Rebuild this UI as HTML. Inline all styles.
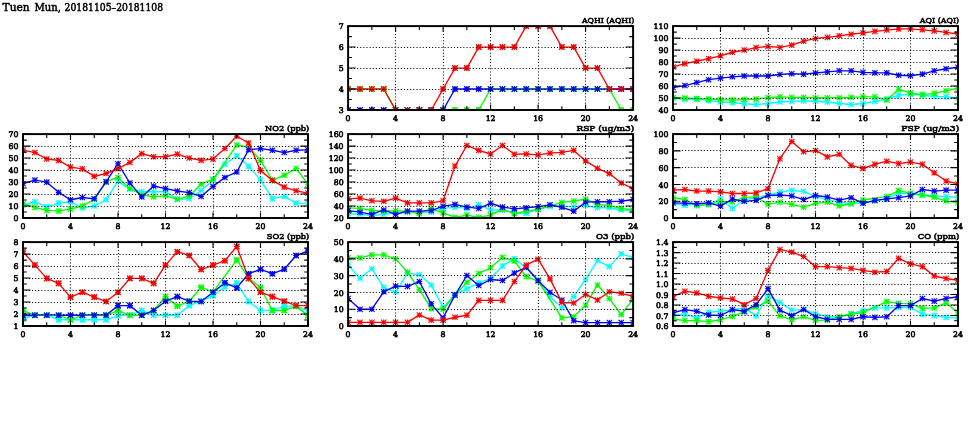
<!DOCTYPE html>
<html><head><meta charset="utf-8"><title>Tuen Mun</title>
<style>html,body{margin:0;padding:0;background:#fff;}svg{display:block;will-change:transform;}</style>
</head><body>
<svg width="975" height="447" viewBox="0 0 975 447" font-family="'DejaVu Serif','Liberation Serif',serif">
<style>text{fill:#000;stroke:#000;stroke-width:0.50px;}.k text{stroke-width:0.60px;}text.p{stroke-width:0.60px;}</style>
<rect width="975" height="447" fill="#fff"/>
<g font-size="10.10"><text id="t_main0" x="2.60" y="10.7" textLength="27.00" lengthAdjust="spacingAndGlyphs">Tuen</text><text id="t_main1" x="34.50" y="10.7" textLength="26.50" lengthAdjust="spacingAndGlyphs">Mun,</text><text id="t_main2" x="64.60" y="10.7" textLength="98.50" lengthAdjust="spacingAndGlyphs">20181105&#8211;20181108</text></g>
<clipPath id="c0"><rect x="348.10" y="26.10" width="285.00" height="83.90"/></clipPath>
<g clip-path="url(#c0)">
<polyline points="348.10,89.03 359.98,89.03 371.85,89.03 383.73,89.03 395.60,110.00 407.48,110.00 419.35,110.00 431.23,110.00 443.10,110.00 454.98,110.00 466.85,110.00 478.73,110.00 490.60,89.03 502.48,89.03 514.35,89.03 526.23,89.03 538.10,89.03 549.98,89.03 561.85,89.03 573.73,89.03 585.60,89.03 597.48,89.03 609.35,89.03 621.23,110.00 633.10,110.00" fill="none" stroke="#00ff00" stroke-width="1.35" stroke-linejoin="round"/>
<path d="M345.30 89.03H350.90M348.10 86.23V91.83M345.44 86.37L350.76 91.69M345.44 91.69L350.76 86.37M357.18 89.03H362.78M359.98 86.23V91.83M357.31 86.37L362.64 91.69M357.31 91.69L362.64 86.37M369.05 89.03H374.65M371.85 86.23V91.83M369.19 86.37L374.51 91.69M369.19 91.69L374.51 86.37M380.93 89.03H386.53M383.73 86.23V91.83M381.06 86.37L386.39 91.69M381.06 91.69L386.39 86.37M392.80 110.00H398.40M395.60 107.20V112.80M392.94 107.34L398.26 112.66M392.94 112.66L398.26 107.34M404.68 110.00H410.28M407.48 107.20V112.80M404.81 107.34L410.14 112.66M404.81 112.66L410.14 107.34M416.55 110.00H422.15M419.35 107.20V112.80M416.69 107.34L422.01 112.66M416.69 112.66L422.01 107.34M428.43 110.00H434.03M431.23 107.20V112.80M428.56 107.34L433.89 112.66M428.56 112.66L433.89 107.34M440.30 110.00H445.90M443.10 107.20V112.80M440.44 107.34L445.76 112.66M440.44 112.66L445.76 107.34M452.18 110.00H457.78M454.98 107.20V112.80M452.31 107.34L457.64 112.66M452.31 112.66L457.64 107.34M464.05 110.00H469.65M466.85 107.20V112.80M464.19 107.34L469.51 112.66M464.19 112.66L469.51 107.34M475.93 110.00H481.53M478.73 107.20V112.80M476.06 107.34L481.39 112.66M476.06 112.66L481.39 107.34M487.80 89.03H493.40M490.60 86.23V91.83M487.94 86.37L493.26 91.69M487.94 91.69L493.26 86.37M499.68 89.03H505.28M502.48 86.23V91.83M499.81 86.37L505.14 91.69M499.81 91.69L505.14 86.37M511.55 89.03H517.15M514.35 86.23V91.83M511.69 86.37L517.01 91.69M511.69 91.69L517.01 86.37M523.43 89.03H529.02M526.23 86.23V91.83M523.57 86.37L528.88 91.69M523.57 91.69L528.88 86.37M535.30 89.03H540.90M538.10 86.23V91.83M535.44 86.37L540.76 91.69M535.44 91.69L540.76 86.37M547.18 89.03H552.77M549.98 86.23V91.83M547.32 86.37L552.63 91.69M547.32 91.69L552.63 86.37M559.05 89.03H564.65M561.85 86.23V91.83M559.19 86.37L564.51 91.69M559.19 91.69L564.51 86.37M570.93 89.03H576.52M573.73 86.23V91.83M571.07 86.37L576.38 91.69M571.07 91.69L576.38 86.37M582.80 89.03H588.40M585.60 86.23V91.83M582.94 86.37L588.26 91.69M582.94 91.69L588.26 86.37M594.68 89.03H600.27M597.48 86.23V91.83M594.82 86.37L600.13 91.69M594.82 91.69L600.13 86.37M606.55 89.03H612.15M609.35 86.23V91.83M606.69 86.37L612.01 91.69M606.69 91.69L612.01 86.37M618.43 110.00H624.02M621.23 107.20V112.80M618.57 107.34L623.88 112.66M618.57 112.66L623.88 107.34M630.30 110.00H635.90M633.10 107.20V112.80M630.44 107.34L635.76 112.66M630.44 112.66L635.76 107.34" fill="none" stroke="#00ff00" stroke-width="1.10"/>
<polyline points="348.10,110.00 359.98,110.00 371.85,110.00 383.73,110.00 395.60,110.00 407.48,110.00 419.35,110.00 431.23,110.00 443.10,110.00 454.98,89.03 466.85,89.03 478.73,89.03 490.60,89.03 502.48,89.03 514.35,89.03 526.23,89.03 538.10,89.03 549.98,89.03 561.85,89.03 573.73,89.03 585.60,89.03 597.48,89.03 609.35,89.03 621.23,89.03 633.10,89.03" fill="none" stroke="#0000ff" stroke-width="1.35" stroke-linejoin="round"/>
<path d="M345.30 110.00H350.90M348.10 107.20V112.80M345.44 107.34L350.76 112.66M345.44 112.66L350.76 107.34M357.18 110.00H362.78M359.98 107.20V112.80M357.31 107.34L362.64 112.66M357.31 112.66L362.64 107.34M369.05 110.00H374.65M371.85 107.20V112.80M369.19 107.34L374.51 112.66M369.19 112.66L374.51 107.34M380.93 110.00H386.53M383.73 107.20V112.80M381.06 107.34L386.39 112.66M381.06 112.66L386.39 107.34M392.80 110.00H398.40M395.60 107.20V112.80M392.94 107.34L398.26 112.66M392.94 112.66L398.26 107.34M404.68 110.00H410.28M407.48 107.20V112.80M404.81 107.34L410.14 112.66M404.81 112.66L410.14 107.34M416.55 110.00H422.15M419.35 107.20V112.80M416.69 107.34L422.01 112.66M416.69 112.66L422.01 107.34M428.43 110.00H434.03M431.23 107.20V112.80M428.56 107.34L433.89 112.66M428.56 112.66L433.89 107.34M440.30 110.00H445.90M443.10 107.20V112.80M440.44 107.34L445.76 112.66M440.44 112.66L445.76 107.34M452.18 89.03H457.78M454.98 86.23V91.83M452.31 86.37L457.64 91.69M452.31 91.69L457.64 86.37M464.05 89.03H469.65M466.85 86.23V91.83M464.19 86.37L469.51 91.69M464.19 91.69L469.51 86.37M475.93 89.03H481.53M478.73 86.23V91.83M476.06 86.37L481.39 91.69M476.06 91.69L481.39 86.37M487.80 89.03H493.40M490.60 86.23V91.83M487.94 86.37L493.26 91.69M487.94 91.69L493.26 86.37M499.68 89.03H505.28M502.48 86.23V91.83M499.81 86.37L505.14 91.69M499.81 91.69L505.14 86.37M511.55 89.03H517.15M514.35 86.23V91.83M511.69 86.37L517.01 91.69M511.69 91.69L517.01 86.37M523.43 89.03H529.02M526.23 86.23V91.83M523.57 86.37L528.88 91.69M523.57 91.69L528.88 86.37M535.30 89.03H540.90M538.10 86.23V91.83M535.44 86.37L540.76 91.69M535.44 91.69L540.76 86.37M547.18 89.03H552.77M549.98 86.23V91.83M547.32 86.37L552.63 91.69M547.32 91.69L552.63 86.37M559.05 89.03H564.65M561.85 86.23V91.83M559.19 86.37L564.51 91.69M559.19 91.69L564.51 86.37M570.93 89.03H576.52M573.73 86.23V91.83M571.07 86.37L576.38 91.69M571.07 91.69L576.38 86.37M582.80 89.03H588.40M585.60 86.23V91.83M582.94 86.37L588.26 91.69M582.94 91.69L588.26 86.37M594.68 89.03H600.27M597.48 86.23V91.83M594.82 86.37L600.13 91.69M594.82 91.69L600.13 86.37M606.55 89.03H612.15M609.35 86.23V91.83M606.69 86.37L612.01 91.69M606.69 91.69L612.01 86.37M618.43 89.03H624.02M621.23 86.23V91.83M618.57 86.37L623.88 91.69M618.57 91.69L623.88 86.37M630.30 89.03H635.90M633.10 86.23V91.83M630.44 86.37L635.76 91.69M630.44 91.69L635.76 86.37" fill="none" stroke="#0000ff" stroke-width="1.10"/>
<polyline points="348.10,89.03 359.98,89.03 371.85,89.03 383.73,89.03 395.60,110.00 407.48,110.00 419.35,110.00 431.23,110.00 443.10,89.03 454.98,68.05 466.85,68.05 478.73,47.07 490.60,47.07 502.48,47.07 514.35,47.07 526.23,26.10 538.10,26.10 549.98,26.10 561.85,47.07 573.73,47.07 585.60,68.05 597.48,68.05 609.35,89.03 621.23,89.03 633.10,89.03" fill="none" stroke="#ff0000" stroke-width="1.35" stroke-linejoin="round"/>
<path d="M345.30 89.03H350.90M348.10 86.23V91.83M345.44 86.37L350.76 91.69M345.44 91.69L350.76 86.37M357.18 89.03H362.78M359.98 86.23V91.83M357.31 86.37L362.64 91.69M357.31 91.69L362.64 86.37M369.05 89.03H374.65M371.85 86.23V91.83M369.19 86.37L374.51 91.69M369.19 91.69L374.51 86.37M380.93 89.03H386.53M383.73 86.23V91.83M381.06 86.37L386.39 91.69M381.06 91.69L386.39 86.37M392.80 110.00H398.40M395.60 107.20V112.80M392.94 107.34L398.26 112.66M392.94 112.66L398.26 107.34M404.68 110.00H410.28M407.48 107.20V112.80M404.81 107.34L410.14 112.66M404.81 112.66L410.14 107.34M416.55 110.00H422.15M419.35 107.20V112.80M416.69 107.34L422.01 112.66M416.69 112.66L422.01 107.34M428.43 110.00H434.03M431.23 107.20V112.80M428.56 107.34L433.89 112.66M428.56 112.66L433.89 107.34M440.30 89.03H445.90M443.10 86.23V91.83M440.44 86.37L445.76 91.69M440.44 91.69L445.76 86.37M452.18 68.05H457.78M454.98 65.25V70.85M452.31 65.39L457.64 70.71M452.31 70.71L457.64 65.39M464.05 68.05H469.65M466.85 65.25V70.85M464.19 65.39L469.51 70.71M464.19 70.71L469.51 65.39M475.93 47.07H481.53M478.73 44.27V49.87M476.06 44.41L481.39 49.73M476.06 49.73L481.39 44.41M487.80 47.07H493.40M490.60 44.27V49.87M487.94 44.41L493.26 49.73M487.94 49.73L493.26 44.41M499.68 47.07H505.28M502.48 44.27V49.87M499.81 44.41L505.14 49.73M499.81 49.73L505.14 44.41M511.55 47.07H517.15M514.35 44.27V49.87M511.69 44.41L517.01 49.73M511.69 49.73L517.01 44.41M523.43 26.10H529.02M526.23 23.30V28.90M523.57 23.44L528.88 28.76M523.57 28.76L528.88 23.44M535.30 26.10H540.90M538.10 23.30V28.90M535.44 23.44L540.76 28.76M535.44 28.76L540.76 23.44M547.18 26.10H552.77M549.98 23.30V28.90M547.32 23.44L552.63 28.76M547.32 28.76L552.63 23.44M559.05 47.07H564.65M561.85 44.27V49.87M559.19 44.41L564.51 49.73M559.19 49.73L564.51 44.41M570.93 47.07H576.52M573.73 44.27V49.87M571.07 44.41L576.38 49.73M571.07 49.73L576.38 44.41M582.80 68.05H588.40M585.60 65.25V70.85M582.94 65.39L588.26 70.71M582.94 70.71L588.26 65.39M594.68 68.05H600.27M597.48 65.25V70.85M594.82 65.39L600.13 70.71M594.82 70.71L600.13 65.39M606.55 89.03H612.15M609.35 86.23V91.83M606.69 86.37L612.01 91.69M606.69 91.69L612.01 86.37M618.43 89.03H624.02M621.23 86.23V91.83M618.57 86.37L623.88 91.69M618.57 91.69L623.88 86.37M630.30 89.03H635.90M633.10 86.23V91.83M630.44 86.37L635.76 91.69M630.44 91.69L635.76 86.37" fill="none" stroke="#ff0000" stroke-width="1.10"/>
<line x1="348.10" y1="89.03" x2="359.98" y2="89.03" stroke="#c0602a" stroke-width="1.35"/>
<line x1="359.98" y1="89.03" x2="371.85" y2="89.03" stroke="#c0602a" stroke-width="1.35"/>
<line x1="371.85" y1="89.03" x2="383.73" y2="89.03" stroke="#c0602a" stroke-width="1.35"/>
<line x1="395.60" y1="110.00" x2="407.48" y2="110.00" stroke="#a02070" stroke-width="1.35"/>
<line x1="407.48" y1="110.00" x2="419.35" y2="110.00" stroke="#a02070" stroke-width="1.35"/>
<line x1="419.35" y1="110.00" x2="431.23" y2="110.00" stroke="#a02070" stroke-width="1.35"/>
<line x1="431.23" y1="110.00" x2="443.10" y2="110.00" stroke="#1a80d0" stroke-width="1.35"/>
<line x1="490.60" y1="89.03" x2="502.48" y2="89.03" stroke="#1a80d0" stroke-width="1.35"/>
<line x1="502.48" y1="89.03" x2="514.35" y2="89.03" stroke="#1a80d0" stroke-width="1.35"/>
<line x1="514.35" y1="89.03" x2="526.23" y2="89.03" stroke="#1a80d0" stroke-width="1.35"/>
<line x1="526.23" y1="89.03" x2="538.10" y2="89.03" stroke="#1a80d0" stroke-width="1.35"/>
<line x1="538.10" y1="89.03" x2="549.98" y2="89.03" stroke="#1a80d0" stroke-width="1.35"/>
<line x1="549.98" y1="89.03" x2="561.85" y2="89.03" stroke="#1a80d0" stroke-width="1.35"/>
<line x1="561.85" y1="89.03" x2="573.73" y2="89.03" stroke="#1a80d0" stroke-width="1.35"/>
<line x1="573.73" y1="89.03" x2="585.60" y2="89.03" stroke="#1a80d0" stroke-width="1.35"/>
<line x1="585.60" y1="89.03" x2="597.48" y2="89.03" stroke="#1a80d0" stroke-width="1.35"/>
<line x1="597.48" y1="89.03" x2="609.35" y2="89.03" stroke="#1a80d0" stroke-width="1.35"/>
<line x1="609.35" y1="89.03" x2="621.23" y2="89.03" stroke="#a02070" stroke-width="1.35"/>
<line x1="621.23" y1="89.03" x2="633.10" y2="89.03" stroke="#a02070" stroke-width="1.35"/>
<path d="M345.30 89.03H350.90M348.10 86.23V91.83M345.44 86.37L350.76 91.69M345.44 91.69L350.76 86.37M357.18 89.03H362.78M359.98 86.23V91.83M357.31 86.37L362.64 91.69M357.31 91.69L362.64 86.37M369.05 89.03H374.65M371.85 86.23V91.83M369.19 86.37L374.51 91.69M369.19 91.69L374.51 86.37M380.93 89.03H386.53M383.73 86.23V91.83M381.06 86.37L386.39 91.69M381.06 91.69L386.39 86.37M392.80 110.00H398.40M395.60 107.20V112.80M392.94 107.34L398.26 112.66M392.94 112.66L398.26 107.34M404.68 110.00H410.28M407.48 107.20V112.80M404.81 107.34L410.14 112.66M404.81 112.66L410.14 107.34M416.55 110.00H422.15M419.35 107.20V112.80M416.69 107.34L422.01 112.66M416.69 112.66L422.01 107.34M428.43 110.00H434.03M431.23 107.20V112.80M428.56 107.34L433.89 112.66M428.56 112.66L433.89 107.34M440.30 110.00H445.90M443.10 107.20V112.80M440.44 107.34L445.76 112.66M440.44 112.66L445.76 107.34M452.18 110.00H457.78M454.98 107.20V112.80M452.31 107.34L457.64 112.66M452.31 112.66L457.64 107.34M464.05 110.00H469.65M466.85 107.20V112.80M464.19 107.34L469.51 112.66M464.19 112.66L469.51 107.34M475.93 110.00H481.53M478.73 107.20V112.80M476.06 107.34L481.39 112.66M476.06 112.66L481.39 107.34M487.80 89.03H493.40M490.60 86.23V91.83M487.94 86.37L493.26 91.69M487.94 91.69L493.26 86.37M499.68 89.03H505.28M502.48 86.23V91.83M499.81 86.37L505.14 91.69M499.81 91.69L505.14 86.37M511.55 89.03H517.15M514.35 86.23V91.83M511.69 86.37L517.01 91.69M511.69 91.69L517.01 86.37M523.43 89.03H529.02M526.23 86.23V91.83M523.57 86.37L528.88 91.69M523.57 91.69L528.88 86.37M535.30 89.03H540.90M538.10 86.23V91.83M535.44 86.37L540.76 91.69M535.44 91.69L540.76 86.37M547.18 89.03H552.77M549.98 86.23V91.83M547.32 86.37L552.63 91.69M547.32 91.69L552.63 86.37M559.05 89.03H564.65M561.85 86.23V91.83M559.19 86.37L564.51 91.69M559.19 91.69L564.51 86.37M570.93 89.03H576.52M573.73 86.23V91.83M571.07 86.37L576.38 91.69M571.07 91.69L576.38 86.37M582.80 89.03H588.40M585.60 86.23V91.83M582.94 86.37L588.26 91.69M582.94 91.69L588.26 86.37M594.68 89.03H600.27M597.48 86.23V91.83M594.82 86.37L600.13 91.69M594.82 91.69L600.13 86.37M606.55 89.03H612.15M609.35 86.23V91.83M606.69 86.37L612.01 91.69M606.69 91.69L612.01 86.37M618.43 110.00H624.02M621.23 107.20V112.80M618.57 107.34L623.88 112.66M618.57 112.66L623.88 107.34M630.30 110.00H635.90M633.10 107.20V112.80M630.44 107.34L635.76 112.66M630.44 112.66L635.76 107.34" fill="none" stroke="#00ff00" stroke-width="1.10"/>
<path d="M345.30 110.00H350.90M348.10 107.20V112.80M345.44 107.34L350.76 112.66M345.44 112.66L350.76 107.34M357.18 110.00H362.78M359.98 107.20V112.80M357.31 107.34L362.64 112.66M357.31 112.66L362.64 107.34M369.05 110.00H374.65M371.85 107.20V112.80M369.19 107.34L374.51 112.66M369.19 112.66L374.51 107.34M380.93 110.00H386.53M383.73 107.20V112.80M381.06 107.34L386.39 112.66M381.06 112.66L386.39 107.34M392.80 110.00H398.40M395.60 107.20V112.80M392.94 107.34L398.26 112.66M392.94 112.66L398.26 107.34M404.68 110.00H410.28M407.48 107.20V112.80M404.81 107.34L410.14 112.66M404.81 112.66L410.14 107.34M416.55 110.00H422.15M419.35 107.20V112.80M416.69 107.34L422.01 112.66M416.69 112.66L422.01 107.34M428.43 110.00H434.03M431.23 107.20V112.80M428.56 107.34L433.89 112.66M428.56 112.66L433.89 107.34M440.30 110.00H445.90M443.10 107.20V112.80M440.44 107.34L445.76 112.66M440.44 112.66L445.76 107.34M452.18 89.03H457.78M454.98 86.23V91.83M452.31 86.37L457.64 91.69M452.31 91.69L457.64 86.37M464.05 89.03H469.65M466.85 86.23V91.83M464.19 86.37L469.51 91.69M464.19 91.69L469.51 86.37M475.93 89.03H481.53M478.73 86.23V91.83M476.06 86.37L481.39 91.69M476.06 91.69L481.39 86.37M487.80 89.03H493.40M490.60 86.23V91.83M487.94 86.37L493.26 91.69M487.94 91.69L493.26 86.37M499.68 89.03H505.28M502.48 86.23V91.83M499.81 86.37L505.14 91.69M499.81 91.69L505.14 86.37M511.55 89.03H517.15M514.35 86.23V91.83M511.69 86.37L517.01 91.69M511.69 91.69L517.01 86.37M523.43 89.03H529.02M526.23 86.23V91.83M523.57 86.37L528.88 91.69M523.57 91.69L528.88 86.37M535.30 89.03H540.90M538.10 86.23V91.83M535.44 86.37L540.76 91.69M535.44 91.69L540.76 86.37M547.18 89.03H552.77M549.98 86.23V91.83M547.32 86.37L552.63 91.69M547.32 91.69L552.63 86.37M559.05 89.03H564.65M561.85 86.23V91.83M559.19 86.37L564.51 91.69M559.19 91.69L564.51 86.37M570.93 89.03H576.52M573.73 86.23V91.83M571.07 86.37L576.38 91.69M571.07 91.69L576.38 86.37M582.80 89.03H588.40M585.60 86.23V91.83M582.94 86.37L588.26 91.69M582.94 91.69L588.26 86.37M594.68 89.03H600.27M597.48 86.23V91.83M594.82 86.37L600.13 91.69M594.82 91.69L600.13 86.37M606.55 89.03H612.15M609.35 86.23V91.83M606.69 86.37L612.01 91.69M606.69 91.69L612.01 86.37M618.43 89.03H624.02M621.23 86.23V91.83M618.57 86.37L623.88 91.69M618.57 91.69L623.88 86.37M630.30 89.03H635.90M633.10 86.23V91.83M630.44 86.37L635.76 91.69M630.44 91.69L635.76 86.37" fill="none" stroke="#0000ff" stroke-width="1.10"/>
<path d="M345.30 89.03H350.90M348.10 86.23V91.83M345.44 86.37L350.76 91.69M345.44 91.69L350.76 86.37M357.18 89.03H362.78M359.98 86.23V91.83M357.31 86.37L362.64 91.69M357.31 91.69L362.64 86.37M369.05 89.03H374.65M371.85 86.23V91.83M369.19 86.37L374.51 91.69M369.19 91.69L374.51 86.37M380.93 89.03H386.53M383.73 86.23V91.83M381.06 86.37L386.39 91.69M381.06 91.69L386.39 86.37M392.80 110.00H398.40M395.60 107.20V112.80M392.94 107.34L398.26 112.66M392.94 112.66L398.26 107.34M404.68 110.00H410.28M407.48 107.20V112.80M404.81 107.34L410.14 112.66M404.81 112.66L410.14 107.34M416.55 110.00H422.15M419.35 107.20V112.80M416.69 107.34L422.01 112.66M416.69 112.66L422.01 107.34M428.43 110.00H434.03M431.23 107.20V112.80M428.56 107.34L433.89 112.66M428.56 112.66L433.89 107.34M440.30 89.03H445.90M443.10 86.23V91.83M440.44 86.37L445.76 91.69M440.44 91.69L445.76 86.37M452.18 68.05H457.78M454.98 65.25V70.85M452.31 65.39L457.64 70.71M452.31 70.71L457.64 65.39M464.05 68.05H469.65M466.85 65.25V70.85M464.19 65.39L469.51 70.71M464.19 70.71L469.51 65.39M475.93 47.07H481.53M478.73 44.27V49.87M476.06 44.41L481.39 49.73M476.06 49.73L481.39 44.41M487.80 47.07H493.40M490.60 44.27V49.87M487.94 44.41L493.26 49.73M487.94 49.73L493.26 44.41M499.68 47.07H505.28M502.48 44.27V49.87M499.81 44.41L505.14 49.73M499.81 49.73L505.14 44.41M511.55 47.07H517.15M514.35 44.27V49.87M511.69 44.41L517.01 49.73M511.69 49.73L517.01 44.41M523.43 26.10H529.02M526.23 23.30V28.90M523.57 23.44L528.88 28.76M523.57 28.76L528.88 23.44M535.30 26.10H540.90M538.10 23.30V28.90M535.44 23.44L540.76 28.76M535.44 28.76L540.76 23.44M547.18 26.10H552.77M549.98 23.30V28.90M547.32 23.44L552.63 28.76M547.32 28.76L552.63 23.44M559.05 47.07H564.65M561.85 44.27V49.87M559.19 44.41L564.51 49.73M559.19 49.73L564.51 44.41M570.93 47.07H576.52M573.73 44.27V49.87M571.07 44.41L576.38 49.73M571.07 49.73L576.38 44.41M582.80 68.05H588.40M585.60 65.25V70.85M582.94 65.39L588.26 70.71M582.94 70.71L588.26 65.39M594.68 68.05H600.27M597.48 65.25V70.85M594.82 65.39L600.13 70.71M594.82 70.71L600.13 65.39M606.55 89.03H612.15M609.35 86.23V91.83M606.69 86.37L612.01 91.69M606.69 91.69L612.01 86.37M618.43 89.03H624.02M621.23 86.23V91.83M618.57 86.37L623.88 91.69M618.57 91.69L623.88 86.37M630.30 89.03H635.90M633.10 86.23V91.83M630.44 86.37L635.76 91.69M630.44 91.69L635.76 86.37" fill="none" stroke="#ff0000" stroke-width="1.10"/>
</g>
<path d="M348.10 89.50H633.10M348.10 68.50H633.10M348.10 47.50H633.10M395.50 28.03V110.00M443.50 28.03V110.00M490.50 28.03V110.00M538.50 28.03V110.00M585.50 28.03V110.00" stroke="#000" stroke-width="1.10" stroke-dasharray="1.05 2.075" stroke-dashoffset="0.4" fill="none"/>
<path d="M348.10 110.00h7.50M633.10 110.00h-7.50M348.10 99.51h3.80M633.10 99.51h-3.80M348.10 89.03h7.50M633.10 89.03h-7.50M348.10 78.54h3.80M633.10 78.54h-3.80M348.10 68.05h7.50M633.10 68.05h-7.50M348.10 57.56h3.80M633.10 57.56h-3.80M348.10 47.07h7.50M633.10 47.07h-7.50M348.10 36.59h3.80M633.10 36.59h-3.80M348.10 26.10h7.50M633.10 26.10h-7.50M348.10 110.00v-5.60M348.10 26.10v5.60M371.85 110.00v-3.80M371.85 26.10v3.80M395.60 110.00v-5.60M395.60 26.10v5.60M419.35 110.00v-3.80M419.35 26.10v3.80M443.10 110.00v-5.60M443.10 26.10v5.60M466.85 110.00v-3.80M466.85 26.10v3.80M490.60 110.00v-5.60M490.60 26.10v5.60M514.35 110.00v-3.80M514.35 26.10v3.80M538.10 110.00v-5.60M538.10 26.10v5.60M561.85 110.00v-3.80M561.85 26.10v3.80M585.60 110.00v-5.60M585.60 26.10v5.60M609.35 110.00v-3.80M609.35 26.10v3.80M633.10 110.00v-5.60M633.10 26.10v5.60" stroke="#000" stroke-width="1.1" fill="none"/>
<rect x="348.10" y="26.10" width="285.00" height="83.90" fill="none" stroke="#000" stroke-width="1.95"/>
<g class="k" font-size="7.80"><text x="343.60" y="113.10" text-anchor="end">3</text><text x="343.60" y="92.12" text-anchor="end">4</text><text x="343.60" y="71.15" text-anchor="end">5</text><text x="343.60" y="50.17" text-anchor="end">6</text><text x="343.60" y="29.20" text-anchor="end">7</text><text x="348.10" y="121.00" text-anchor="middle">0</text><text x="395.60" y="121.00" text-anchor="middle">4</text><text x="443.10" y="121.00" text-anchor="middle">8</text><text x="490.60" y="121.00" text-anchor="middle">12</text><text x="538.10" y="121.00" text-anchor="middle">16</text><text x="585.60" y="121.00" text-anchor="middle">20</text><text x="633.10" y="121.00" text-anchor="middle">24</text></g>
<text class="p" id="t_AQHI" x="634.30" y="23.00" text-anchor="end" font-size="8.20" textLength="52.40" lengthAdjust="spacingAndGlyphs">AQHI (AQHI)</text>
<clipPath id="c1"><rect x="673.00" y="26.10" width="285.00" height="83.90"/></clipPath>
<g clip-path="url(#c1)">
<polyline points="673.00,98.13 684.88,99.33 696.75,99.33 708.62,100.41 720.50,101.97 732.38,102.69 744.25,103.77 756.12,104.49 768.00,103.53 779.88,101.97 791.75,101.49 803.62,100.89 815.50,101.25 827.38,101.97 839.25,103.53 851.12,104.49 863.00,103.53 874.88,101.49 886.75,99.09 898.62,95.26 910.50,94.18 922.38,95.26 934.25,96.46 946.12,96.82 958.00,98.13" fill="none" stroke="#00ffff" stroke-width="1.35" stroke-linejoin="round"/>
<path d="M670.20 98.13H675.80M673.00 95.33V100.93M670.34 95.47L675.66 100.79M670.34 100.79L675.66 95.47M682.08 99.33H687.67M684.88 96.53V102.13M682.22 96.67L687.53 101.99M682.22 101.99L687.53 96.67M693.95 99.33H699.55M696.75 96.53V102.13M694.09 96.67L699.41 101.99M694.09 101.99L699.41 96.67M705.83 100.41H711.42M708.62 97.61V103.21M705.97 97.75L711.28 103.07M705.97 103.07L711.28 97.75M717.70 101.97H723.30M720.50 99.17V104.77M717.84 99.31L723.16 104.63M717.84 104.63L723.16 99.31M729.58 102.69H735.17M732.38 99.89V105.49M729.72 100.03L735.03 105.35M729.72 105.35L735.03 100.03M741.45 103.77H747.05M744.25 100.97V106.57M741.59 101.11L746.91 106.43M741.59 106.43L746.91 101.11M753.33 104.49H758.92M756.12 101.69V107.29M753.47 101.83L758.78 107.15M753.47 107.15L758.78 101.83M765.20 103.53H770.80M768.00 100.73V106.33M765.34 100.87L770.66 106.19M765.34 106.19L770.66 100.87M777.08 101.97H782.67M779.88 99.17V104.77M777.22 99.31L782.53 104.63M777.22 104.63L782.53 99.31M788.95 101.49H794.55M791.75 98.69V104.29M789.09 98.83L794.41 104.15M789.09 104.15L794.41 98.83M800.83 100.89H806.42M803.62 98.09V103.69M800.97 98.23L806.28 103.55M800.97 103.55L806.28 98.23M812.70 101.25H818.30M815.50 98.45V104.05M812.84 98.59L818.16 103.91M812.84 103.91L818.16 98.59M824.58 101.97H830.17M827.38 99.17V104.77M824.72 99.31L830.03 104.63M824.72 104.63L830.03 99.31M836.45 103.53H842.05M839.25 100.73V106.33M836.59 100.87L841.91 106.19M836.59 106.19L841.91 100.87M848.33 104.49H853.92M851.12 101.69V107.29M848.47 101.83L853.78 107.15M848.47 107.15L853.78 101.83M860.20 103.53H865.80M863.00 100.73V106.33M860.34 100.87L865.66 106.19M860.34 106.19L865.66 100.87M872.08 101.49H877.67M874.88 98.69V104.29M872.22 98.83L877.53 104.15M872.22 104.15L877.53 98.83M883.95 99.09H889.55M886.75 96.29V101.89M884.09 96.43L889.41 101.75M884.09 101.75L889.41 96.43M895.83 95.26H901.42M898.62 92.46V98.06M895.97 92.60L901.28 97.92M895.97 97.92L901.28 92.60M907.70 94.18H913.30M910.50 91.38V96.98M907.84 91.52L913.16 96.84M907.84 96.84L913.16 91.52M919.58 95.26H925.17M922.38 92.46V98.06M919.72 92.60L925.03 97.92M919.72 97.92L925.03 92.60M931.45 96.46H937.05M934.25 93.66V99.26M931.59 93.80L936.91 99.12M931.59 99.12L936.91 93.80M943.33 96.82H948.92M946.12 94.02V99.62M943.47 94.16L948.78 99.48M943.47 99.48L948.78 94.16M955.20 98.13H960.80M958.00 95.33V100.93M955.34 95.47L960.66 100.79M955.34 100.79L960.66 95.47" fill="none" stroke="#00ffff" stroke-width="1.10"/>
<polyline points="673.00,97.77 684.88,98.01 696.75,98.61 708.62,99.09 720.50,99.69 732.38,100.17 744.25,99.57 756.12,99.09 768.00,97.53 779.88,96.82 791.75,97.30 803.62,97.30 815.50,97.77 827.38,97.77 839.25,97.77 851.12,97.30 863.00,96.82 874.88,96.82 886.75,99.93 898.62,89.26 910.50,93.10 922.38,94.66 934.25,93.34 946.12,90.82 958.00,87.95" fill="none" stroke="#00ff00" stroke-width="1.35" stroke-linejoin="round"/>
<path d="M670.20 97.77H675.80M673.00 94.97V100.57M670.34 95.11L675.66 100.43M670.34 100.43L675.66 95.11M682.08 98.01H687.67M684.88 95.21V100.81M682.22 95.35L687.53 100.67M682.22 100.67L687.53 95.35M693.95 98.61H699.55M696.75 95.81V101.41M694.09 95.95L699.41 101.27M694.09 101.27L699.41 95.95M705.83 99.09H711.42M708.62 96.29V101.89M705.97 96.43L711.28 101.75M705.97 101.75L711.28 96.43M717.70 99.69H723.30M720.50 96.89V102.49M717.84 97.03L723.16 102.35M717.84 102.35L723.16 97.03M729.58 100.17H735.17M732.38 97.37V102.97M729.72 97.51L735.03 102.83M729.72 102.83L735.03 97.51M741.45 99.57H747.05M744.25 96.77V102.37M741.59 96.91L746.91 102.23M741.59 102.23L746.91 96.91M753.33 99.09H758.92M756.12 96.29V101.89M753.47 96.43L758.78 101.75M753.47 101.75L758.78 96.43M765.20 97.53H770.80M768.00 94.73V100.33M765.34 94.87L770.66 100.19M765.34 100.19L770.66 94.87M777.08 96.82H782.67M779.88 94.02V99.62M777.22 94.16L782.53 99.48M777.22 99.48L782.53 94.16M788.95 97.30H794.55M791.75 94.50V100.10M789.09 94.64L794.41 99.96M789.09 99.96L794.41 94.64M800.83 97.30H806.42M803.62 94.50V100.10M800.97 94.64L806.28 99.96M800.97 99.96L806.28 94.64M812.70 97.77H818.30M815.50 94.97V100.57M812.84 95.11L818.16 100.43M812.84 100.43L818.16 95.11M824.58 97.77H830.17M827.38 94.97V100.57M824.72 95.11L830.03 100.43M824.72 100.43L830.03 95.11M836.45 97.77H842.05M839.25 94.97V100.57M836.59 95.11L841.91 100.43M836.59 100.43L841.91 95.11M848.33 97.30H853.92M851.12 94.50V100.10M848.47 94.64L853.78 99.96M848.47 99.96L853.78 94.64M860.20 96.82H865.80M863.00 94.02V99.62M860.34 94.16L865.66 99.48M860.34 99.48L865.66 94.16M872.08 96.82H877.67M874.88 94.02V99.62M872.22 94.16L877.53 99.48M872.22 99.48L877.53 94.16M883.95 99.93H889.55M886.75 97.13V102.73M884.09 97.27L889.41 102.59M884.09 102.59L889.41 97.27M895.83 89.26H901.42M898.62 86.46V92.06M895.97 86.60L901.28 91.92M895.97 91.92L901.28 86.60M907.70 93.10H913.30M910.50 90.30V95.90M907.84 90.44L913.16 95.76M907.84 95.76L913.16 90.44M919.58 94.66H925.17M922.38 91.86V97.46M919.72 92.00L925.03 97.32M919.72 97.32L925.03 92.00M931.45 93.34H937.05M934.25 90.54V96.14M931.59 90.68L936.91 96.00M931.59 96.00L936.91 90.68M943.33 90.82H948.92M946.12 88.02V93.62M943.47 88.16L948.78 93.48M943.47 93.48L948.78 88.16M955.20 87.95H960.80M958.00 85.15V90.75M955.34 85.29L960.66 90.61M955.34 90.61L960.66 85.29" fill="none" stroke="#00ff00" stroke-width="1.10"/>
<polyline points="673.00,87.47 684.88,85.55 696.75,82.55 708.62,79.68 720.50,78.12 732.38,76.80 744.25,75.96 756.12,75.96 768.00,75.96 779.88,74.52 791.75,73.68 803.62,74.16 815.50,72.96 827.38,71.89 839.25,70.81 851.12,70.81 863.00,72.36 874.88,72.84 886.75,72.84 898.62,75.24 910.50,75.72 922.38,74.16 934.25,70.81 946.12,68.77 958.00,67.21" fill="none" stroke="#0000ff" stroke-width="1.35" stroke-linejoin="round"/>
<path d="M670.20 87.47H675.80M673.00 84.67V90.27M670.34 84.81L675.66 90.13M670.34 90.13L675.66 84.81M682.08 85.55H687.67M684.88 82.75V88.35M682.22 82.89L687.53 88.21M682.22 88.21L687.53 82.89M693.95 82.55H699.55M696.75 79.75V85.35M694.09 79.89L699.41 85.21M694.09 85.21L699.41 79.89M705.83 79.68H711.42M708.62 76.88V82.48M705.97 77.02L711.28 82.34M705.97 82.34L711.28 77.02M717.70 78.12H723.30M720.50 75.32V80.92M717.84 75.46L723.16 80.78M717.84 80.78L723.16 75.46M729.58 76.80H735.17M732.38 74.00V79.60M729.72 74.14L735.03 79.46M729.72 79.46L735.03 74.14M741.45 75.96H747.05M744.25 73.16V78.76M741.59 73.30L746.91 78.62M741.59 78.62L746.91 73.30M753.33 75.96H758.92M756.12 73.16V78.76M753.47 73.30L758.78 78.62M753.47 78.62L758.78 73.30M765.20 75.96H770.80M768.00 73.16V78.76M765.34 73.30L770.66 78.62M765.34 78.62L770.66 73.30M777.08 74.52H782.67M779.88 71.72V77.32M777.22 71.86L782.53 77.18M777.22 77.18L782.53 71.86M788.95 73.68H794.55M791.75 70.88V76.48M789.09 71.02L794.41 76.34M789.09 76.34L794.41 71.02M800.83 74.16H806.42M803.62 71.36V76.96M800.97 71.50L806.28 76.82M800.97 76.82L806.28 71.50M812.70 72.96H818.30M815.50 70.16V75.76M812.84 70.30L818.16 75.62M812.84 75.62L818.16 70.30M824.58 71.89H830.17M827.38 69.09V74.69M824.72 69.23L830.03 74.55M824.72 74.55L830.03 69.23M836.45 70.81H842.05M839.25 68.01V73.61M836.59 68.15L841.91 73.47M836.59 73.47L841.91 68.15M848.33 70.81H853.92M851.12 68.01V73.61M848.47 68.15L853.78 73.47M848.47 73.47L853.78 68.15M860.20 72.36H865.80M863.00 69.56V75.16M860.34 69.70L865.66 75.02M860.34 75.02L865.66 69.70M872.08 72.84H877.67M874.88 70.04V75.64M872.22 70.18L877.53 75.50M872.22 75.50L877.53 70.18M883.95 72.84H889.55M886.75 70.04V75.64M884.09 70.18L889.41 75.50M884.09 75.50L889.41 70.18M895.83 75.24H901.42M898.62 72.44V78.04M895.97 72.58L901.28 77.90M895.97 77.90L901.28 72.58M907.70 75.72H913.30M910.50 72.92V78.52M907.84 73.06L913.16 78.38M907.84 78.38L913.16 73.06M919.58 74.16H925.17M922.38 71.36V76.96M919.72 71.50L925.03 76.82M919.72 76.82L925.03 71.50M931.45 70.81H937.05M934.25 68.01V73.61M931.59 68.15L936.91 73.47M931.59 73.47L936.91 68.15M943.33 68.77H948.92M946.12 65.97V71.57M943.47 66.11L948.78 71.43M943.47 71.43L948.78 66.11M955.20 67.21H960.80M958.00 64.41V70.01M955.34 64.55L960.66 69.87M955.34 69.87L960.66 64.55" fill="none" stroke="#0000ff" stroke-width="1.10"/>
<polyline points="673.00,66.97 684.88,63.62 696.75,61.22 708.62,58.70 720.50,55.82 732.38,52.23 744.25,50.07 756.12,47.55 768.00,46.48 779.88,47.43 791.75,45.16 803.62,41.20 815.50,38.45 827.38,37.37 839.25,35.81 851.12,34.25 863.00,32.93 874.88,31.37 886.75,30.06 898.62,28.86 910.50,28.86 922.38,29.82 934.25,30.89 946.12,32.45 958.00,34.01" fill="none" stroke="#ff0000" stroke-width="1.35" stroke-linejoin="round"/>
<path d="M670.20 66.97H675.80M673.00 64.17V69.77M670.34 64.31L675.66 69.63M670.34 69.63L675.66 64.31M682.08 63.62H687.67M684.88 60.82V66.42M682.22 60.96L687.53 66.28M682.22 66.28L687.53 60.96M693.95 61.22H699.55M696.75 58.42V64.02M694.09 58.56L699.41 63.88M694.09 63.88L699.41 58.56M705.83 58.70H711.42M708.62 55.90V61.50M705.97 56.04L711.28 61.36M705.97 61.36L711.28 56.04M717.70 55.82H723.30M720.50 53.02V58.62M717.84 53.16L723.16 58.48M717.84 58.48L723.16 53.16M729.58 52.23H735.17M732.38 49.43V55.03M729.72 49.57L735.03 54.89M729.72 54.89L735.03 49.57M741.45 50.07H747.05M744.25 47.27V52.87M741.59 47.41L746.91 52.73M741.59 52.73L746.91 47.41M753.33 47.55H758.92M756.12 44.75V50.35M753.47 44.89L758.78 50.21M753.47 50.21L758.78 44.89M765.20 46.48H770.80M768.00 43.68V49.28M765.34 43.82L770.66 49.14M765.34 49.14L770.66 43.82M777.08 47.43H782.67M779.88 44.63V50.23M777.22 44.77L782.53 50.09M777.22 50.09L782.53 44.77M788.95 45.16H794.55M791.75 42.36V47.96M789.09 42.50L794.41 47.82M789.09 47.82L794.41 42.50M800.83 41.20H806.42M803.62 38.40V44.00M800.97 38.54L806.28 43.86M800.97 43.86L806.28 38.54M812.70 38.45H818.30M815.50 35.65V41.25M812.84 35.79L818.16 41.11M812.84 41.11L818.16 35.79M824.58 37.37H830.17M827.38 34.57V40.17M824.72 34.71L830.03 40.03M824.72 40.03L830.03 34.71M836.45 35.81H842.05M839.25 33.01V38.61M836.59 33.15L841.91 38.47M836.59 38.47L841.91 33.15M848.33 34.25H853.92M851.12 31.45V37.05M848.47 31.59L853.78 36.91M848.47 36.91L853.78 31.59M860.20 32.93H865.80M863.00 30.13V35.73M860.34 30.27L865.66 35.59M860.34 35.59L865.66 30.27M872.08 31.37H877.67M874.88 28.57V34.17M872.22 28.71L877.53 34.03M872.22 34.03L877.53 28.71M883.95 30.06H889.55M886.75 27.26V32.86M884.09 27.40L889.41 32.72M884.09 32.72L889.41 27.40M895.83 28.86H901.42M898.62 26.06V31.66M895.97 26.20L901.28 31.52M895.97 31.52L901.28 26.20M907.70 28.86H913.30M910.50 26.06V31.66M907.84 26.20L913.16 31.52M907.84 31.52L913.16 26.20M919.58 29.82H925.17M922.38 27.02V32.62M919.72 27.16L925.03 32.48M919.72 32.48L925.03 27.16M931.45 30.89H937.05M934.25 28.09V33.69M931.59 28.23L936.91 33.55M931.59 33.55L936.91 28.23M943.33 32.45H948.92M946.12 29.65V35.25M943.47 29.79L948.78 35.11M943.47 35.11L948.78 29.79M955.20 34.01H960.80M958.00 31.21V36.81M955.34 31.35L960.66 36.67M955.34 36.67L960.66 31.35" fill="none" stroke="#ff0000" stroke-width="1.10"/>
</g>
<path d="M673.00 98.50H958.00M673.00 86.50H958.00M673.00 74.50H958.00M673.00 62.50H958.00M673.00 50.50H958.00M673.00 38.50H958.00M720.50 28.03V110.00M768.50 28.03V110.00M815.50 28.03V110.00M863.50 28.03V110.00M910.50 28.03V110.00" stroke="#000" stroke-width="1.10" stroke-dasharray="1.05 2.075" stroke-dashoffset="0.4" fill="none"/>
<path d="M673.00 110.00h7.50M958.00 110.00h-7.50M673.00 104.01h3.80M958.00 104.01h-3.80M673.00 98.01h7.50M958.00 98.01h-7.50M673.00 92.02h3.80M958.00 92.02h-3.80M673.00 86.03h7.50M958.00 86.03h-7.50M673.00 80.04h3.80M958.00 80.04h-3.80M673.00 74.04h7.50M958.00 74.04h-7.50M673.00 68.05h3.80M958.00 68.05h-3.80M673.00 62.06h7.50M958.00 62.06h-7.50M673.00 56.06h3.80M958.00 56.06h-3.80M673.00 50.07h7.50M958.00 50.07h-7.50M673.00 44.08h3.80M958.00 44.08h-3.80M673.00 38.09h7.50M958.00 38.09h-7.50M673.00 32.09h3.80M958.00 32.09h-3.80M673.00 26.10h7.50M958.00 26.10h-7.50M673.00 110.00v-5.60M673.00 26.10v5.60M696.75 110.00v-3.80M696.75 26.10v3.80M720.50 110.00v-5.60M720.50 26.10v5.60M744.25 110.00v-3.80M744.25 26.10v3.80M768.00 110.00v-5.60M768.00 26.10v5.60M791.75 110.00v-3.80M791.75 26.10v3.80M815.50 110.00v-5.60M815.50 26.10v5.60M839.25 110.00v-3.80M839.25 26.10v3.80M863.00 110.00v-5.60M863.00 26.10v5.60M886.75 110.00v-3.80M886.75 26.10v3.80M910.50 110.00v-5.60M910.50 26.10v5.60M934.25 110.00v-3.80M934.25 26.10v3.80M958.00 110.00v-5.60M958.00 26.10v5.60" stroke="#000" stroke-width="1.1" fill="none"/>
<rect x="673.00" y="26.10" width="285.00" height="83.90" fill="none" stroke="#000" stroke-width="1.95"/>
<g class="k" font-size="7.80"><text x="668.50" y="113.10" text-anchor="end">40</text><text x="668.50" y="101.11" text-anchor="end">50</text><text x="668.50" y="89.13" text-anchor="end">60</text><text x="668.50" y="77.14" text-anchor="end">70</text><text x="668.50" y="65.16" text-anchor="end">80</text><text x="668.50" y="53.17" text-anchor="end">90</text><text x="668.50" y="41.19" text-anchor="end">100</text><text x="668.50" y="29.20" text-anchor="end">110</text><text x="673.00" y="121.00" text-anchor="middle">0</text><text x="720.50" y="121.00" text-anchor="middle">4</text><text x="768.00" y="121.00" text-anchor="middle">8</text><text x="815.50" y="121.00" text-anchor="middle">12</text><text x="863.00" y="121.00" text-anchor="middle">16</text><text x="910.50" y="121.00" text-anchor="middle">20</text><text x="958.00" y="121.00" text-anchor="middle">24</text></g>
<text class="p" id="t_AQI" x="959.20" y="23.00" text-anchor="end" font-size="8.20" textLength="39.40" lengthAdjust="spacingAndGlyphs">AQI (AQI)</text>
<clipPath id="c2"><rect x="23.00" y="134.10" width="285.00" height="83.90"/></clipPath>
<g clip-path="url(#c2)">
<polyline points="23.00,205.53 34.88,201.70 46.75,206.85 58.62,203.14 70.50,201.94 82.38,207.81 94.25,206.01 106.12,199.78 118.00,181.32 129.88,189.11 141.75,191.75 153.62,191.75 165.50,191.75 177.38,199.30 189.25,198.82 201.12,190.43 213.00,180.25 224.88,164.18 236.75,155.79 248.62,166.34 260.50,179.89 272.38,198.58 284.25,196.43 296.12,203.14 308.00,203.50" fill="none" stroke="#00ffff" stroke-width="1.35" stroke-linejoin="round"/>
<path d="M20.20 205.53H25.80M23.00 202.73V208.33M20.34 202.87L25.66 208.19M20.34 208.19L25.66 202.87M32.08 201.70H37.67M34.88 198.90V204.50M32.22 199.04L37.53 204.36M32.22 204.36L37.53 199.04M43.95 206.85H49.55M46.75 204.05V209.65M44.09 204.19L49.41 209.51M44.09 209.51L49.41 204.19M55.83 203.14H61.42M58.62 200.34V205.94M55.97 200.48L61.28 205.80M55.97 205.80L61.28 200.48M67.70 201.94H73.30M70.50 199.14V204.74M67.84 199.28L73.16 204.60M67.84 204.60L73.16 199.28M79.58 207.81H85.17M82.38 205.01V210.61M79.72 205.15L85.03 210.47M79.72 210.47L85.03 205.15M91.45 206.01H97.05M94.25 203.21V208.81M91.59 203.35L96.91 208.67M91.59 208.67L96.91 203.35M103.33 199.78H108.92M106.12 196.98V202.58M103.47 197.12L108.78 202.44M103.47 202.44L108.78 197.12M115.20 181.32H120.80M118.00 178.52V184.12M115.34 178.66L120.66 183.98M115.34 183.98L120.66 178.66M127.08 189.11H132.68M129.88 186.31V191.91M127.22 186.45L132.53 191.77M127.22 191.77L132.53 186.45M138.95 191.75H144.55M141.75 188.95V194.55M139.09 189.09L144.41 194.41M139.09 194.41L144.41 189.09M150.82 191.75H156.43M153.62 188.95V194.55M150.97 189.09L156.28 194.41M150.97 194.41L156.28 189.09M162.70 191.75H168.30M165.50 188.95V194.55M162.84 189.09L168.16 194.41M162.84 194.41L168.16 189.09M174.57 199.30H180.18M177.38 196.50V202.10M174.72 196.64L180.03 201.96M174.72 201.96L180.03 196.64M186.45 198.82H192.05M189.25 196.02V201.62M186.59 196.16L191.91 201.48M186.59 201.48L191.91 196.16M198.32 190.43H203.93M201.12 187.63V193.23M198.47 187.77L203.78 193.09M198.47 193.09L203.78 187.77M210.20 180.25H215.80M213.00 177.44V183.05M210.34 177.59L215.66 182.91M210.34 182.91L215.66 177.59M222.07 164.18H227.68M224.88 161.38V166.98M222.22 161.52L227.53 166.84M222.22 166.84L227.53 161.52M233.95 155.79H239.55M236.75 152.99V158.59M234.09 153.13L239.41 158.45M234.09 158.45L239.41 153.13M245.82 166.34H251.43M248.62 163.54V169.14M245.97 163.68L251.28 169.00M245.97 169.00L251.28 163.68M257.70 179.89H263.30M260.50 177.09V182.69M257.84 177.23L263.16 182.55M257.84 182.55L263.16 177.23M269.57 198.58H275.18M272.38 195.78V201.38M269.71 195.92L275.04 201.24M269.71 201.24L275.04 195.92M281.45 196.43H287.05M284.25 193.63V199.23M281.59 193.77L286.91 199.09M281.59 199.09L286.91 193.77M293.32 203.14H298.93M296.12 200.34V205.94M293.46 200.48L298.79 205.80M293.46 205.80L298.79 200.48M305.20 203.50H310.80M308.00 200.70V206.30M305.34 200.84L310.66 206.16M305.34 206.16L310.66 200.84" fill="none" stroke="#00ffff" stroke-width="1.10"/>
<polyline points="23.00,203.74 34.88,207.33 46.75,210.45 58.62,210.93 70.50,209.13 82.38,206.01 94.25,199.42 106.12,181.44 118.00,177.49 129.88,188.52 141.75,194.99 153.62,196.91 165.50,195.71 177.38,199.30 189.25,195.95 201.12,184.20 213.00,179.29 236.75,145.01 248.62,147.16 260.50,160.35 272.38,180.36 284.25,175.21 296.12,168.62 308.00,184.20" fill="none" stroke="#00ff00" stroke-width="1.35" stroke-linejoin="round"/>
<path d="M20.20 203.74H25.80M23.00 200.94V206.54M20.34 201.08L25.66 206.40M20.34 206.40L25.66 201.08M32.08 207.33H37.67M34.88 204.53V210.13M32.22 204.67L37.53 209.99M32.22 209.99L37.53 204.67M43.95 210.45H49.55M46.75 207.65V213.25M44.09 207.79L49.41 213.11M44.09 213.11L49.41 207.79M55.83 210.93H61.42M58.62 208.13V213.73M55.97 208.27L61.28 213.59M55.97 213.59L61.28 208.27M67.70 209.13H73.30M70.50 206.33V211.93M67.84 206.47L73.16 211.79M67.84 211.79L73.16 206.47M79.58 206.01H85.17M82.38 203.21V208.81M79.72 203.35L85.03 208.67M79.72 208.67L85.03 203.35M91.45 199.42H97.05M94.25 196.62V202.22M91.59 196.76L96.91 202.08M91.59 202.08L96.91 196.76M103.33 181.44H108.92M106.12 178.64V184.24M103.47 178.78L108.78 184.10M103.47 184.10L108.78 178.78M115.20 177.49H120.80M118.00 174.69V180.29M115.34 174.83L120.66 180.15M115.34 180.15L120.66 174.83M127.08 188.52H132.68M129.88 185.72V191.32M127.22 185.86L132.53 191.18M127.22 191.18L132.53 185.86M138.95 194.99H144.55M141.75 192.19V197.79M139.09 192.33L144.41 197.65M139.09 197.65L144.41 192.33M150.82 196.91H156.43M153.62 194.11V199.71M150.97 194.25L156.28 199.57M150.97 199.57L156.28 194.25M162.70 195.71H168.30M165.50 192.91V198.51M162.84 193.05L168.16 198.37M162.84 198.37L168.16 193.05M174.57 199.30H180.18M177.38 196.50V202.10M174.72 196.64L180.03 201.96M174.72 201.96L180.03 196.64M186.45 195.95H192.05M189.25 193.15V198.75M186.59 193.29L191.91 198.61M186.59 198.61L191.91 193.29M198.32 184.20H203.93M201.12 181.40V187.00M198.47 181.54L203.78 186.86M198.47 186.86L203.78 181.54M210.20 179.29H215.80M213.00 176.49V182.09M210.34 176.63L215.66 181.95M210.34 181.95L215.66 176.63M233.95 145.01H239.55M236.75 142.21V147.81M234.09 142.35L239.41 147.67M234.09 147.67L239.41 142.35M245.82 147.16H251.43M248.62 144.36V149.96M245.97 144.50L251.28 149.82M245.97 149.82L251.28 144.50M257.70 160.35H263.30M260.50 157.55V163.15M257.84 157.69L263.16 163.01M257.84 163.01L263.16 157.69M269.57 180.36H275.18M272.38 177.56V183.16M269.71 177.70L275.04 183.02M269.71 183.02L275.04 177.70M281.45 175.21H287.05M284.25 172.41V178.01M281.59 172.55L286.91 177.87M281.59 177.87L286.91 172.55M293.32 168.62H298.93M296.12 165.82V171.42M293.46 165.96L298.79 171.28M293.46 171.28L298.79 165.96M305.20 184.20H310.80M308.00 181.40V187.00M305.34 181.54L310.66 186.86M305.34 186.86L310.66 181.54" fill="none" stroke="#00ff00" stroke-width="1.10"/>
<polyline points="23.00,183.72 34.88,180.13 46.75,182.16 58.62,192.35 70.50,199.78 82.38,197.50 94.25,198.82 106.12,181.92 118.00,163.70 129.88,183.00 141.75,196.91 153.62,186.00 165.50,188.63 177.38,191.03 189.25,192.59 201.12,196.43 213.00,186.36 224.88,177.49 236.75,171.97 248.62,149.68 260.50,148.60 272.38,150.28 284.25,152.56 296.12,150.28 308.00,149.92" fill="none" stroke="#0000ff" stroke-width="1.35" stroke-linejoin="round"/>
<path d="M20.20 183.72H25.80M23.00 180.92V186.52M20.34 181.06L25.66 186.38M20.34 186.38L25.66 181.06M32.08 180.13H37.67M34.88 177.33V182.93M32.22 177.47L37.53 182.79M32.22 182.79L37.53 177.47M43.95 182.16H49.55M46.75 179.36V184.96M44.09 179.50L49.41 184.82M44.09 184.82L49.41 179.50M55.83 192.35H61.42M58.62 189.55V195.15M55.97 189.69L61.28 195.01M55.97 195.01L61.28 189.69M67.70 199.78H73.30M70.50 196.98V202.58M67.84 197.12L73.16 202.44M67.84 202.44L73.16 197.12M79.58 197.50H85.17M82.38 194.70V200.30M79.72 194.84L85.03 200.16M79.72 200.16L85.03 194.84M91.45 198.82H97.05M94.25 196.02V201.62M91.59 196.16L96.91 201.48M91.59 201.48L96.91 196.16M103.33 181.92H108.92M106.12 179.12V184.72M103.47 179.26L108.78 184.58M103.47 184.58L108.78 179.26M115.20 163.70H120.80M118.00 160.90V166.50M115.34 161.04L120.66 166.36M115.34 166.36L120.66 161.04M127.08 183.00H132.68M129.88 180.20V185.80M127.22 180.34L132.53 185.66M127.22 185.66L132.53 180.34M138.95 196.91H144.55M141.75 194.11V199.71M139.09 194.25L144.41 199.57M139.09 199.57L144.41 194.25M150.82 186.00H156.43M153.62 183.20V188.80M150.97 183.34L156.28 188.66M150.97 188.66L156.28 183.34M162.70 188.63H168.30M165.50 185.83V191.44M162.84 185.97L168.16 191.29M162.84 191.29L168.16 185.97M174.57 191.03H180.18M177.38 188.23V193.83M174.72 188.37L180.03 193.69M174.72 193.69L180.03 188.37M186.45 192.59H192.05M189.25 189.79V195.39M186.59 189.93L191.91 195.25M186.59 195.25L191.91 189.93M198.32 196.43H203.93M201.12 193.63V199.23M198.47 193.77L203.78 199.09M198.47 199.09L203.78 193.77M210.20 186.36H215.80M213.00 183.56V189.16M210.34 183.70L215.66 189.02M210.34 189.02L215.66 183.70M222.07 177.49H227.68M224.88 174.69V180.29M222.22 174.83L227.53 180.15M222.22 180.15L227.53 174.83M233.95 171.97H239.55M236.75 169.17V174.77M234.09 169.31L239.41 174.63M234.09 174.63L239.41 169.31M245.82 149.68H251.43M248.62 146.88V152.48M245.97 147.02L251.28 152.34M245.97 152.34L251.28 147.02M257.70 148.60H263.30M260.50 145.80V151.40M257.84 145.94L263.16 151.26M257.84 151.26L263.16 145.94M269.57 150.28H275.18M272.38 147.48V153.08M269.71 147.62L275.04 152.94M269.71 152.94L275.04 147.62M281.45 152.56H287.05M284.25 149.76V155.36M281.59 149.90L286.91 155.22M281.59 155.22L286.91 149.90M293.32 150.28H298.93M296.12 147.48V153.08M293.46 147.62L298.79 152.94M293.46 152.94L298.79 147.62M305.20 149.92H310.80M308.00 147.12V152.72M305.34 147.26L310.66 152.58M305.34 152.58L310.66 147.26" fill="none" stroke="#0000ff" stroke-width="1.10"/>
<polyline points="23.00,150.16 34.88,152.56 46.75,159.03 58.62,160.35 70.50,167.06 82.38,168.86 94.25,176.41 106.12,173.53 118.00,168.62 129.88,162.39 141.75,153.64 153.62,156.75 165.50,156.75 177.38,154.12 189.25,158.07 201.12,160.35 213.00,159.03 224.88,148.48 236.75,136.26 248.62,142.97 260.50,170.42 272.38,180.36 284.25,187.08 296.12,190.79 308.00,193.07" fill="none" stroke="#ff0000" stroke-width="1.35" stroke-linejoin="round"/>
<path d="M20.20 150.16H25.80M23.00 147.36V152.96M20.34 147.50L25.66 152.82M20.34 152.82L25.66 147.50M32.08 152.56H37.67M34.88 149.76V155.36M32.22 149.90L37.53 155.22M32.22 155.22L37.53 149.90M43.95 159.03H49.55M46.75 156.23V161.83M44.09 156.37L49.41 161.69M44.09 161.69L49.41 156.37M55.83 160.35H61.42M58.62 157.55V163.15M55.97 157.69L61.28 163.01M55.97 163.01L61.28 157.69M67.70 167.06H73.30M70.50 164.26V169.86M67.84 164.40L73.16 169.72M67.84 169.72L73.16 164.40M79.58 168.86H85.17M82.38 166.06V171.66M79.72 166.20L85.03 171.52M79.72 171.52L85.03 166.20M91.45 176.41H97.05M94.25 173.61V179.21M91.59 173.75L96.91 179.07M91.59 179.07L96.91 173.75M103.33 173.53H108.92M106.12 170.73V176.33M103.47 170.87L108.78 176.19M103.47 176.19L108.78 170.87M115.20 168.62H120.80M118.00 165.82V171.42M115.34 165.96L120.66 171.28M115.34 171.28L120.66 165.96M127.08 162.39H132.68M129.88 159.59V165.19M127.22 159.73L132.53 165.05M127.22 165.05L132.53 159.73M138.95 153.64H144.55M141.75 150.84V156.44M139.09 150.98L144.41 156.30M139.09 156.30L144.41 150.98M150.82 156.75H156.43M153.62 153.95V159.55M150.97 154.09L156.28 159.41M150.97 159.41L156.28 154.09M162.70 156.75H168.30M165.50 153.95V159.55M162.84 154.09L168.16 159.41M162.84 159.41L168.16 154.09M174.57 154.12H180.18M177.38 151.32V156.92M174.72 151.46L180.03 156.78M174.72 156.78L180.03 151.46M186.45 158.07H192.05M189.25 155.27V160.87M186.59 155.41L191.91 160.73M186.59 160.73L191.91 155.41M198.32 160.35H203.93M201.12 157.55V163.15M198.47 157.69L203.78 163.01M198.47 163.01L203.78 157.69M210.20 159.03H215.80M213.00 156.23V161.83M210.34 156.37L215.66 161.69M210.34 161.69L215.66 156.37M222.07 148.48H227.68M224.88 145.68V151.28M222.22 145.82L227.53 151.14M222.22 151.14L227.53 145.82M233.95 136.26H239.55M236.75 133.46V139.06M234.09 133.60L239.41 138.92M234.09 138.92L239.41 133.60M245.82 142.97H251.43M248.62 140.17V145.77M245.97 140.31L251.28 145.63M245.97 145.63L251.28 140.31M257.70 170.42H263.30M260.50 167.62V173.22M257.84 167.76L263.16 173.08M257.84 173.08L263.16 167.76M269.57 180.36H275.18M272.38 177.56V183.16M269.71 177.70L275.04 183.02M269.71 183.02L275.04 177.70M281.45 187.08H287.05M284.25 184.28V189.88M281.59 184.42L286.91 189.74M281.59 189.74L286.91 184.42M293.32 190.79H298.93M296.12 187.99V193.59M293.46 188.13L298.79 193.45M293.46 193.45L298.79 188.13M305.20 193.07H310.80M308.00 190.27V195.87M305.34 190.41L310.66 195.73M305.34 195.73L310.66 190.41" fill="none" stroke="#ff0000" stroke-width="1.10"/>
</g>
<path d="M23.00 206.50H308.00M23.00 194.50H308.00M23.00 182.50H308.00M23.00 170.50H308.00M23.00 158.50H308.00M23.00 146.50H308.00M70.50 136.03V218.00M118.50 136.03V218.00M165.50 136.03V218.00M213.50 136.03V218.00M260.50 136.03V218.00" stroke="#000" stroke-width="1.10" stroke-dasharray="1.05 2.075" stroke-dashoffset="0.4" fill="none"/>
<path d="M23.00 218.00h7.50M308.00 218.00h-7.50M23.00 212.01h3.80M308.00 212.01h-3.80M23.00 206.01h7.50M308.00 206.01h-7.50M23.00 200.02h3.80M308.00 200.02h-3.80M23.00 194.03h7.50M308.00 194.03h-7.50M23.00 188.04h3.80M308.00 188.04h-3.80M23.00 182.04h7.50M308.00 182.04h-7.50M23.00 176.05h3.80M308.00 176.05h-3.80M23.00 170.06h7.50M308.00 170.06h-7.50M23.00 164.06h3.80M308.00 164.06h-3.80M23.00 158.07h7.50M308.00 158.07h-7.50M23.00 152.08h3.80M308.00 152.08h-3.80M23.00 146.09h7.50M308.00 146.09h-7.50M23.00 140.09h3.80M308.00 140.09h-3.80M23.00 134.10h7.50M308.00 134.10h-7.50M23.00 218.00v-5.60M23.00 134.10v5.60M46.75 218.00v-3.80M46.75 134.10v3.80M70.50 218.00v-5.60M70.50 134.10v5.60M94.25 218.00v-3.80M94.25 134.10v3.80M118.00 218.00v-5.60M118.00 134.10v5.60M141.75 218.00v-3.80M141.75 134.10v3.80M165.50 218.00v-5.60M165.50 134.10v5.60M189.25 218.00v-3.80M189.25 134.10v3.80M213.00 218.00v-5.60M213.00 134.10v5.60M236.75 218.00v-3.80M236.75 134.10v3.80M260.50 218.00v-5.60M260.50 134.10v5.60M284.25 218.00v-3.80M284.25 134.10v3.80M308.00 218.00v-5.60M308.00 134.10v5.60" stroke="#000" stroke-width="1.1" fill="none"/>
<rect x="23.00" y="134.10" width="285.00" height="83.90" fill="none" stroke="#000" stroke-width="1.95"/>
<g class="k" font-size="7.80"><text x="18.50" y="221.10" text-anchor="end">0</text><text x="18.50" y="209.11" text-anchor="end">10</text><text x="18.50" y="197.13" text-anchor="end">20</text><text x="18.50" y="185.14" text-anchor="end">30</text><text x="18.50" y="173.16" text-anchor="end">40</text><text x="18.50" y="161.17" text-anchor="end">50</text><text x="18.50" y="149.19" text-anchor="end">60</text><text x="18.50" y="137.20" text-anchor="end">70</text><text x="23.00" y="229.00" text-anchor="middle">0</text><text x="70.50" y="229.00" text-anchor="middle">4</text><text x="118.00" y="229.00" text-anchor="middle">8</text><text x="165.50" y="229.00" text-anchor="middle">12</text><text x="213.00" y="229.00" text-anchor="middle">16</text><text x="260.50" y="229.00" text-anchor="middle">20</text><text x="308.00" y="229.00" text-anchor="middle">24</text></g>
<text class="p" id="t_NO2" x="309.20" y="131.00" text-anchor="end" font-size="8.20" textLength="44.10" lengthAdjust="spacingAndGlyphs">NO2 (ppb)</text>
<clipPath id="c3"><rect x="348.10" y="134.10" width="285.00" height="83.90"/></clipPath>
<g clip-path="url(#c3)">
<polyline points="348.10,213.75 359.98,214.22 371.85,215.54 383.73,214.40 395.60,212.85 407.48,212.43 419.35,212.19 431.23,212.19 443.10,208.41 454.98,207.09 466.85,208.41 478.73,204.82 490.60,209.97 502.48,209.97 514.35,212.67 526.23,213.33 538.10,208.83 549.98,206.61 561.85,206.19 573.73,206.61 585.60,205.53 597.48,207.75 609.35,207.75 621.23,209.97 633.10,210.63" fill="none" stroke="#00ffff" stroke-width="1.35" stroke-linejoin="round"/>
<path d="M345.30 213.75H350.90M348.10 210.95V216.55M345.44 211.09L350.76 216.41M345.44 216.41L350.76 211.09M357.18 214.22H362.78M359.98 211.42V217.02M357.31 211.56L362.64 216.88M357.31 216.88L362.64 211.56M369.05 215.54H374.65M371.85 212.74V218.34M369.19 212.88L374.51 218.20M369.19 218.20L374.51 212.88M380.93 214.40H386.53M383.73 211.60V217.20M381.06 211.74L386.39 217.06M381.06 217.06L386.39 211.74M392.80 212.85H398.40M395.60 210.05V215.65M392.94 210.19L398.26 215.51M392.94 215.51L398.26 210.19M404.68 212.43H410.28M407.48 209.63V215.23M404.81 209.77L410.14 215.09M404.81 215.09L410.14 209.77M416.55 212.19H422.15M419.35 209.39V214.99M416.69 209.53L422.01 214.85M416.69 214.85L422.01 209.53M428.43 212.19H434.03M431.23 209.39V214.99M428.56 209.53L433.89 214.85M428.56 214.85L433.89 209.53M440.30 208.41H445.90M443.10 205.61V211.21M440.44 205.75L445.76 211.07M440.44 211.07L445.76 205.75M452.18 207.09H457.78M454.98 204.29V209.89M452.31 204.43L457.64 209.75M452.31 209.75L457.64 204.43M464.05 208.41H469.65M466.85 205.61V211.21M464.19 205.75L469.51 211.07M464.19 211.07L469.51 205.75M475.93 204.82H481.53M478.73 202.02V207.62M476.06 202.16L481.39 207.48M476.06 207.48L481.39 202.16M487.80 209.97H493.40M490.60 207.17V212.77M487.94 207.31L493.26 212.63M487.94 212.63L493.26 207.31M499.68 209.97H505.28M502.48 207.17V212.77M499.81 207.31L505.14 212.63M499.81 212.63L505.14 207.31M511.55 212.67H517.15M514.35 209.87V215.47M511.69 210.01L517.01 215.33M511.69 215.33L517.01 210.01M523.43 213.33H529.02M526.23 210.53V216.13M523.57 210.67L528.88 215.99M523.57 215.99L528.88 210.67M535.30 208.83H540.90M538.10 206.03V211.63M535.44 206.17L540.76 211.49M535.44 211.49L540.76 206.17M547.18 206.61H552.77M549.98 203.81V209.41M547.32 203.95L552.63 209.27M547.32 209.27L552.63 203.95M559.05 206.19H564.65M561.85 203.39V208.99M559.19 203.53L564.51 208.85M559.19 208.85L564.51 203.53M570.93 206.61H576.52M573.73 203.81V209.41M571.07 203.95L576.38 209.27M571.07 209.27L576.38 203.95M582.80 205.53H588.40M585.60 202.73V208.33M582.94 202.87L588.26 208.19M582.94 208.19L588.26 202.87M594.68 207.75H600.27M597.48 204.95V210.55M594.82 205.09L600.13 210.41M594.82 210.41L600.13 205.09M606.55 207.75H612.15M609.35 204.95V210.55M606.69 205.09L612.01 210.41M606.69 210.41L612.01 205.09M618.43 209.97H624.02M621.23 207.17V212.77M618.57 207.31L623.88 212.63M618.57 212.63L623.88 207.31M630.30 210.63H635.90M633.10 207.83V213.43M630.44 207.97L635.76 213.29M630.44 213.29L635.76 207.97" fill="none" stroke="#00ffff" stroke-width="1.10"/>
<polyline points="348.10,207.93 359.98,208.41 371.85,210.21 383.73,211.11 395.60,210.63 407.48,211.53 419.35,213.33 431.23,208.41 443.10,212.85 454.98,217.34 466.85,215.12 478.73,217.34 490.60,215.12 502.48,209.31 514.35,213.75 526.23,211.11 538.10,209.49 561.85,202.42 573.73,201.04 585.60,199.06 597.48,204.40 609.35,205.71 621.23,208.41 633.10,209.97" fill="none" stroke="#00ff00" stroke-width="1.35" stroke-linejoin="round"/>
<path d="M345.30 207.93H350.90M348.10 205.13V210.73M345.44 205.27L350.76 210.59M345.44 210.59L350.76 205.27M357.18 208.41H362.78M359.98 205.61V211.21M357.31 205.75L362.64 211.07M357.31 211.07L362.64 205.75M369.05 210.21H374.65M371.85 207.41V213.01M369.19 207.55L374.51 212.87M369.19 212.87L374.51 207.55M380.93 211.11H386.53M383.73 208.31V213.91M381.06 208.45L386.39 213.77M381.06 213.77L386.39 208.45M392.80 210.63H398.40M395.60 207.83V213.43M392.94 207.97L398.26 213.29M392.94 213.29L398.26 207.97M404.68 211.53H410.28M407.48 208.73V214.33M404.81 208.87L410.14 214.19M404.81 214.19L410.14 208.87M416.55 213.33H422.15M419.35 210.53V216.13M416.69 210.67L422.01 215.99M416.69 215.99L422.01 210.67M428.43 208.41H434.03M431.23 205.61V211.21M428.56 205.75L433.89 211.07M428.56 211.07L433.89 205.75M440.30 212.85H445.90M443.10 210.05V215.65M440.44 210.19L445.76 215.51M440.44 215.51L445.76 210.19M452.18 217.34H457.78M454.98 214.54V220.14M452.31 214.68L457.64 220.00M452.31 220.00L457.64 214.68M464.05 215.12H469.65M466.85 212.32V217.92M464.19 212.46L469.51 217.78M464.19 217.78L469.51 212.46M475.93 217.34H481.53M478.73 214.54V220.14M476.06 214.68L481.39 220.00M476.06 220.00L481.39 214.68M487.80 215.12H493.40M490.60 212.32V217.92M487.94 212.46L493.26 217.78M487.94 217.78L493.26 212.46M499.68 209.31H505.28M502.48 206.51V212.11M499.81 206.65L505.14 211.97M499.81 211.97L505.14 206.65M511.55 213.75H517.15M514.35 210.95V216.55M511.69 211.09L517.01 216.41M511.69 216.41L517.01 211.09M523.43 211.11H529.02M526.23 208.31V213.91M523.57 208.45L528.88 213.77M523.57 213.77L528.88 208.45M535.30 209.49H540.90M538.10 206.69V212.29M535.44 206.83L540.76 212.15M535.44 212.15L540.76 206.83M559.05 202.42H564.65M561.85 199.62V205.22M559.19 199.76L564.51 205.08M559.19 205.08L564.51 199.76M570.93 201.04H576.52M573.73 198.24V203.84M571.07 198.38L576.38 203.70M571.07 203.70L576.38 198.38M582.80 199.06H588.40M585.60 196.26V201.86M582.94 196.40L588.26 201.72M582.94 201.72L588.26 196.40M594.68 204.40H600.27M597.48 201.60V207.20M594.82 201.74L600.13 207.06M594.82 207.06L600.13 201.74M606.55 205.71H612.15M609.35 202.91V208.51M606.69 203.05L612.01 208.37M606.69 208.37L612.01 203.05M618.43 208.41H624.02M621.23 205.61V211.21M618.57 205.75L623.88 211.07M618.57 211.07L623.88 205.75M630.30 209.97H635.90M633.10 207.17V212.77M630.44 207.31L635.76 212.63M630.44 212.63L635.76 207.31" fill="none" stroke="#00ff00" stroke-width="1.10"/>
<polyline points="348.10,210.63 359.98,212.19 371.85,214.40 383.73,209.97 395.60,214.40 407.48,211.11 419.35,211.11 431.23,210.63 443.10,206.19 454.98,204.40 466.85,207.09 478.73,208.41 490.60,203.26 502.48,207.09 514.35,208.83 526.23,207.75 538.10,206.61 549.98,204.82 561.85,207.27 573.73,211.11 585.60,202.18 597.48,201.70 609.35,201.70 621.23,201.28 633.10,199.48" fill="none" stroke="#0000ff" stroke-width="1.35" stroke-linejoin="round"/>
<path d="M345.30 210.63H350.90M348.10 207.83V213.43M345.44 207.97L350.76 213.29M345.44 213.29L350.76 207.97M357.18 212.19H362.78M359.98 209.39V214.99M357.31 209.53L362.64 214.85M357.31 214.85L362.64 209.53M369.05 214.40H374.65M371.85 211.60V217.20M369.19 211.74L374.51 217.06M369.19 217.06L374.51 211.74M380.93 209.97H386.53M383.73 207.17V212.77M381.06 207.31L386.39 212.63M381.06 212.63L386.39 207.31M392.80 214.40H398.40M395.60 211.60V217.20M392.94 211.74L398.26 217.06M392.94 217.06L398.26 211.74M404.68 211.11H410.28M407.48 208.31V213.91M404.81 208.45L410.14 213.77M404.81 213.77L410.14 208.45M416.55 211.11H422.15M419.35 208.31V213.91M416.69 208.45L422.01 213.77M416.69 213.77L422.01 208.45M428.43 210.63H434.03M431.23 207.83V213.43M428.56 207.97L433.89 213.29M428.56 213.29L433.89 207.97M440.30 206.19H445.90M443.10 203.39V208.99M440.44 203.53L445.76 208.85M440.44 208.85L445.76 203.53M452.18 204.40H457.78M454.98 201.60V207.20M452.31 201.74L457.64 207.06M452.31 207.06L457.64 201.74M464.05 207.09H469.65M466.85 204.29V209.89M464.19 204.43L469.51 209.75M464.19 209.75L469.51 204.43M475.93 208.41H481.53M478.73 205.61V211.21M476.06 205.75L481.39 211.07M476.06 211.07L481.39 205.75M487.80 203.26H493.40M490.60 200.46V206.06M487.94 200.60L493.26 205.92M487.94 205.92L493.26 200.60M499.68 207.09H505.28M502.48 204.29V209.89M499.81 204.43L505.14 209.75M499.81 209.75L505.14 204.43M511.55 208.83H517.15M514.35 206.03V211.63M511.69 206.17L517.01 211.49M511.69 211.49L517.01 206.17M523.43 207.75H529.02M526.23 204.95V210.55M523.57 205.09L528.88 210.41M523.57 210.41L528.88 205.09M535.30 206.61H540.90M538.10 203.81V209.41M535.44 203.95L540.76 209.27M535.44 209.27L540.76 203.95M547.18 204.82H552.77M549.98 202.02V207.62M547.32 202.16L552.63 207.48M547.32 207.48L552.63 202.16M559.05 207.27H564.65M561.85 204.47V210.07M559.19 204.61L564.51 209.93M559.19 209.93L564.51 204.61M570.93 211.11H576.52M573.73 208.31V213.91M571.07 208.45L576.38 213.77M571.07 213.77L576.38 208.45M582.80 202.18H588.40M585.60 199.38V204.98M582.94 199.52L588.26 204.84M582.94 204.84L588.26 199.52M594.68 201.70H600.27M597.48 198.90V204.50M594.82 199.04L600.13 204.36M594.82 204.36L600.13 199.04M606.55 201.70H612.15M609.35 198.90V204.50M606.69 199.04L612.01 204.36M606.69 204.36L612.01 199.04M618.43 201.28H624.02M621.23 198.48V204.08M618.57 198.62L623.88 203.94M618.57 203.94L623.88 198.62M630.30 199.48H635.90M633.10 196.68V202.28M630.44 196.82L635.76 202.14M630.44 202.14L635.76 196.82" fill="none" stroke="#0000ff" stroke-width="1.10"/>
<polyline points="348.10,198.82 359.98,198.16 371.85,200.80 383.73,201.28 395.60,198.16 407.48,202.84 419.35,202.84 431.23,202.84 443.10,200.80 454.98,166.04 466.85,145.49 478.73,150.40 490.60,154.00 502.48,145.49 514.35,154.18 526.23,154.00 538.10,154.84 549.98,153.10 561.85,152.38 573.73,150.40 585.60,160.89 597.48,168.26 609.35,173.59 621.23,182.94 633.10,188.75" fill="none" stroke="#ff0000" stroke-width="1.35" stroke-linejoin="round"/>
<path d="M345.30 198.82H350.90M348.10 196.02V201.62M345.44 196.16L350.76 201.48M345.44 201.48L350.76 196.16M357.18 198.16H362.78M359.98 195.36V200.96M357.31 195.50L362.64 200.82M357.31 200.82L362.64 195.50M369.05 200.80H374.65M371.85 198.00V203.60M369.19 198.14L374.51 203.46M369.19 203.46L374.51 198.14M380.93 201.28H386.53M383.73 198.48V204.08M381.06 198.62L386.39 203.94M381.06 203.94L386.39 198.62M392.80 198.16H398.40M395.60 195.36V200.96M392.94 195.50L398.26 200.82M392.94 200.82L398.26 195.50M404.68 202.84H410.28M407.48 200.04V205.64M404.81 200.18L410.14 205.50M404.81 205.50L410.14 200.18M416.55 202.84H422.15M419.35 200.04V205.64M416.69 200.18L422.01 205.50M416.69 205.50L422.01 200.18M428.43 202.84H434.03M431.23 200.04V205.64M428.56 200.18L433.89 205.50M428.56 205.50L433.89 200.18M440.30 200.80H445.90M443.10 198.00V203.60M440.44 198.14L445.76 203.46M440.44 203.46L445.76 198.14M452.18 166.04H457.78M454.98 163.24V168.84M452.31 163.38L457.64 168.70M452.31 168.70L457.64 163.38M464.05 145.49H469.65M466.85 142.69V148.29M464.19 142.83L469.51 148.15M464.19 148.15L469.51 142.83M475.93 150.40H481.53M478.73 147.60V153.20M476.06 147.74L481.39 153.06M476.06 153.06L481.39 147.74M487.80 154.00H493.40M490.60 151.20V156.80M487.94 151.34L493.26 156.66M487.94 156.66L493.26 151.34M499.68 145.49H505.28M502.48 142.69V148.29M499.81 142.83L505.14 148.15M499.81 148.15L505.14 142.83M511.55 154.18H517.15M514.35 151.38V156.98M511.69 151.52L517.01 156.84M511.69 156.84L517.01 151.52M523.43 154.00H529.02M526.23 151.20V156.80M523.57 151.34L528.88 156.66M523.57 156.66L528.88 151.34M535.30 154.84H540.90M538.10 152.04V157.64M535.44 152.18L540.76 157.50M535.44 157.50L540.76 152.18M547.18 153.10H552.77M549.98 150.30V155.90M547.32 150.44L552.63 155.76M547.32 155.76L552.63 150.44M559.05 152.38H564.65M561.85 149.58V155.18M559.19 149.72L564.51 155.04M559.19 155.04L564.51 149.72M570.93 150.40H576.52M573.73 147.60V153.20M571.07 147.74L576.38 153.06M571.07 153.06L576.38 147.74M582.80 160.89H588.40M585.60 158.09V163.69M582.94 158.23L588.26 163.55M582.94 163.55L588.26 158.23M594.68 168.26H600.27M597.48 165.46V171.06M594.82 165.60L600.13 170.92M594.82 170.92L600.13 165.60M606.55 173.59H612.15M609.35 170.79V176.39M606.69 170.93L612.01 176.25M606.69 176.25L612.01 170.93M618.43 182.94H624.02M621.23 180.14V185.74M618.57 180.28L623.88 185.60M618.57 185.60L623.88 180.28M630.30 188.75H635.90M633.10 185.95V191.55M630.44 186.09L635.76 191.41M630.44 191.41L635.76 186.09" fill="none" stroke="#ff0000" stroke-width="1.10"/>
</g>
<path d="M348.10 206.50H633.10M348.10 194.50H633.10M348.10 182.50H633.10M348.10 170.50H633.10M348.10 158.50H633.10M348.10 146.50H633.10M395.50 136.03V218.00M443.50 136.03V218.00M490.50 136.03V218.00M538.50 136.03V218.00M585.50 136.03V218.00" stroke="#000" stroke-width="1.10" stroke-dasharray="1.05 2.075" stroke-dashoffset="0.4" fill="none"/>
<path d="M348.10 218.00h7.50M633.10 218.00h-7.50M348.10 212.01h3.80M633.10 212.01h-3.80M348.10 206.01h7.50M633.10 206.01h-7.50M348.10 200.02h3.80M633.10 200.02h-3.80M348.10 194.03h7.50M633.10 194.03h-7.50M348.10 188.04h3.80M633.10 188.04h-3.80M348.10 182.04h7.50M633.10 182.04h-7.50M348.10 176.05h3.80M633.10 176.05h-3.80M348.10 170.06h7.50M633.10 170.06h-7.50M348.10 164.06h3.80M633.10 164.06h-3.80M348.10 158.07h7.50M633.10 158.07h-7.50M348.10 152.08h3.80M633.10 152.08h-3.80M348.10 146.09h7.50M633.10 146.09h-7.50M348.10 140.09h3.80M633.10 140.09h-3.80M348.10 134.10h7.50M633.10 134.10h-7.50M348.10 218.00v-5.60M348.10 134.10v5.60M371.85 218.00v-3.80M371.85 134.10v3.80M395.60 218.00v-5.60M395.60 134.10v5.60M419.35 218.00v-3.80M419.35 134.10v3.80M443.10 218.00v-5.60M443.10 134.10v5.60M466.85 218.00v-3.80M466.85 134.10v3.80M490.60 218.00v-5.60M490.60 134.10v5.60M514.35 218.00v-3.80M514.35 134.10v3.80M538.10 218.00v-5.60M538.10 134.10v5.60M561.85 218.00v-3.80M561.85 134.10v3.80M585.60 218.00v-5.60M585.60 134.10v5.60M609.35 218.00v-3.80M609.35 134.10v3.80M633.10 218.00v-5.60M633.10 134.10v5.60" stroke="#000" stroke-width="1.1" fill="none"/>
<rect x="348.10" y="134.10" width="285.00" height="83.90" fill="none" stroke="#000" stroke-width="1.95"/>
<g class="k" font-size="7.80"><text x="343.60" y="221.10" text-anchor="end">20</text><text x="343.60" y="209.11" text-anchor="end">40</text><text x="343.60" y="197.13" text-anchor="end">60</text><text x="343.60" y="185.14" text-anchor="end">80</text><text x="343.60" y="173.16" text-anchor="end">100</text><text x="343.60" y="161.17" text-anchor="end">120</text><text x="343.60" y="149.19" text-anchor="end">140</text><text x="343.60" y="137.20" text-anchor="end">160</text><text x="348.10" y="229.00" text-anchor="middle">0</text><text x="395.60" y="229.00" text-anchor="middle">4</text><text x="443.10" y="229.00" text-anchor="middle">8</text><text x="490.60" y="229.00" text-anchor="middle">12</text><text x="538.10" y="229.00" text-anchor="middle">16</text><text x="585.60" y="229.00" text-anchor="middle">20</text><text x="633.10" y="229.00" text-anchor="middle">24</text></g>
<text class="p" id="t_RSP" x="634.30" y="131.00" text-anchor="end" font-size="8.20" textLength="57.90" lengthAdjust="spacingAndGlyphs">RSP (ug/m3)</text>
<clipPath id="c4"><rect x="673.00" y="134.10" width="285.00" height="83.90"/></clipPath>
<g clip-path="url(#c4)">
<polyline points="673.00,203.32 684.88,205.33 696.75,203.74 708.62,204.41 720.50,198.87 732.38,208.44 744.25,199.96 756.12,197.70 768.00,195.01 779.88,192.16 791.75,190.40 803.62,191.49 815.50,196.61 827.38,199.96 839.25,202.14 851.12,203.74 863.00,202.65 874.88,201.05 886.75,198.87 898.62,192.83 910.50,194.34 922.38,195.01 934.25,195.93 946.12,196.61 958.00,197.28" fill="none" stroke="#00ffff" stroke-width="1.35" stroke-linejoin="round"/>
<path d="M670.20 203.32H675.80M673.00 200.52V206.12M670.34 200.66L675.66 205.98M670.34 205.98L675.66 200.66M682.08 205.33H687.67M684.88 202.53V208.13M682.22 202.67L687.53 207.99M682.22 207.99L687.53 202.67M693.95 203.74H699.55M696.75 200.94V206.54M694.09 201.08L699.41 206.40M694.09 206.40L699.41 201.08M705.83 204.41H711.42M708.62 201.61V207.21M705.97 201.75L711.28 207.07M705.97 207.07L711.28 201.75M717.70 198.87H723.30M720.50 196.07V201.67M717.84 196.21L723.16 201.53M717.84 201.53L723.16 196.21M729.58 208.44H735.17M732.38 205.64V211.24M729.72 205.78L735.03 211.10M729.72 211.10L735.03 205.78M741.45 199.96H747.05M744.25 197.16V202.76M741.59 197.30L746.91 202.62M741.59 202.62L746.91 197.30M753.33 197.70H758.92M756.12 194.90V200.50M753.47 195.04L758.78 200.36M753.47 200.36L758.78 195.04M765.20 195.01H770.80M768.00 192.21V197.81M765.34 192.35L770.66 197.67M765.34 197.67L770.66 192.35M777.08 192.16H782.67M779.88 189.36V194.96M777.22 189.50L782.53 194.82M777.22 194.82L782.53 189.50M788.95 190.40H794.55M791.75 187.60V193.20M789.09 187.74L794.41 193.06M789.09 193.06L794.41 187.74M800.83 191.49H806.42M803.62 188.69V194.29M800.97 188.83L806.28 194.15M800.97 194.15L806.28 188.83M812.70 196.61H818.30M815.50 193.81V199.41M812.84 193.95L818.16 199.27M812.84 199.27L818.16 193.95M824.58 199.96H830.17M827.38 197.16V202.76M824.72 197.30L830.03 202.62M824.72 202.62L830.03 197.30M836.45 202.14H842.05M839.25 199.34V204.94M836.59 199.48L841.91 204.80M836.59 204.80L841.91 199.48M848.33 203.74H853.92M851.12 200.94V206.54M848.47 201.08L853.78 206.40M848.47 206.40L853.78 201.08M860.20 202.65H865.80M863.00 199.85V205.45M860.34 199.99L865.66 205.31M860.34 205.31L865.66 199.99M872.08 201.05H877.67M874.88 198.25V203.85M872.22 198.39L877.53 203.71M872.22 203.71L877.53 198.39M883.95 198.87H889.55M886.75 196.07V201.67M884.09 196.21L889.41 201.53M884.09 201.53L889.41 196.21M895.83 192.83H901.42M898.62 190.03V195.63M895.97 190.17L901.28 195.49M895.97 195.49L901.28 190.17M907.70 194.34H913.30M910.50 191.54V197.14M907.84 191.68L913.16 197.00M907.84 197.00L913.16 191.68M919.58 195.01H925.17M922.38 192.21V197.81M919.72 192.35L925.03 197.67M919.72 197.67L925.03 192.35M931.45 195.93H937.05M934.25 193.13V198.73M931.59 193.27L936.91 198.59M931.59 198.59L936.91 193.27M943.33 196.61H948.92M946.12 193.81V199.41M943.47 193.95L948.78 199.27M943.47 199.27L948.78 193.95M955.20 197.28H960.80M958.00 194.48V200.08M955.34 194.62L960.66 199.94M955.34 199.94L960.66 194.62" fill="none" stroke="#00ffff" stroke-width="1.10"/>
<polyline points="673.00,197.70 684.88,199.54 696.75,205.75 708.62,204.41 720.50,202.14 732.38,201.72 744.25,197.70 756.12,196.61 768.00,204.41 779.88,202.14 791.75,204.41 803.62,207.09 815.50,203.32 827.38,202.14 839.25,206.00 851.12,203.74 863.00,199.96 886.75,196.61 898.62,190.56 910.50,193.25 922.38,195.01 934.25,197.03 946.12,201.05 958.00,202.65" fill="none" stroke="#00ff00" stroke-width="1.35" stroke-linejoin="round"/>
<path d="M670.20 197.70H675.80M673.00 194.90V200.50M670.34 195.04L675.66 200.36M670.34 200.36L675.66 195.04M682.08 199.54H687.67M684.88 196.74V202.34M682.22 196.88L687.53 202.20M682.22 202.20L687.53 196.88M693.95 205.75H699.55M696.75 202.95V208.55M694.09 203.09L699.41 208.41M694.09 208.41L699.41 203.09M705.83 204.41H711.42M708.62 201.61V207.21M705.97 201.75L711.28 207.07M705.97 207.07L711.28 201.75M717.70 202.14H723.30M720.50 199.34V204.94M717.84 199.48L723.16 204.80M717.84 204.80L723.16 199.48M729.58 201.72H735.17M732.38 198.92V204.52M729.72 199.06L735.03 204.38M729.72 204.38L735.03 199.06M741.45 197.70H747.05M744.25 194.90V200.50M741.59 195.04L746.91 200.36M741.59 200.36L746.91 195.04M753.33 196.61H758.92M756.12 193.81V199.41M753.47 193.95L758.78 199.27M753.47 199.27L758.78 193.95M765.20 204.41H770.80M768.00 201.61V207.21M765.34 201.75L770.66 207.07M765.34 207.07L770.66 201.75M777.08 202.14H782.67M779.88 199.34V204.94M777.22 199.48L782.53 204.80M777.22 204.80L782.53 199.48M788.95 204.41H794.55M791.75 201.61V207.21M789.09 201.75L794.41 207.07M789.09 207.07L794.41 201.75M800.83 207.09H806.42M803.62 204.29V209.89M800.97 204.43L806.28 209.75M800.97 209.75L806.28 204.43M812.70 203.32H818.30M815.50 200.52V206.12M812.84 200.66L818.16 205.98M812.84 205.98L818.16 200.66M824.58 202.14H830.17M827.38 199.34V204.94M824.72 199.48L830.03 204.80M824.72 204.80L830.03 199.48M836.45 206.00H842.05M839.25 203.20V208.80M836.59 203.34L841.91 208.66M836.59 208.66L841.91 203.34M848.33 203.74H853.92M851.12 200.94V206.54M848.47 201.08L853.78 206.40M848.47 206.40L853.78 201.08M860.20 199.96H865.80M863.00 197.16V202.76M860.34 197.30L865.66 202.62M860.34 202.62L865.66 197.30M883.95 196.61H889.55M886.75 193.81V199.41M884.09 193.95L889.41 199.27M884.09 199.27L889.41 193.95M895.83 190.56H901.42M898.62 187.76V193.36M895.97 187.90L901.28 193.22M895.97 193.22L901.28 187.90M907.70 193.25H913.30M910.50 190.45V196.05M907.84 190.59L913.16 195.91M907.84 195.91L913.16 190.59M919.58 195.01H925.17M922.38 192.21V197.81M919.72 192.35L925.03 197.67M919.72 197.67L925.03 192.35M931.45 197.03H937.05M934.25 194.22V199.83M931.59 194.37L936.91 199.69M931.59 199.69L936.91 194.37M943.33 201.05H948.92M946.12 198.25V203.85M943.47 198.39L948.78 203.71M943.47 203.71L948.78 198.39M955.20 202.65H960.80M958.00 199.85V205.45M955.34 199.99L960.66 205.31M955.34 205.31L960.66 199.99" fill="none" stroke="#00ff00" stroke-width="1.10"/>
<polyline points="673.00,202.81 684.88,203.07 696.75,203.74 708.62,202.81 720.50,206.17 732.38,199.04 744.25,201.30 756.12,200.38 768.00,195.51 779.88,195.01 791.75,195.93 803.62,199.54 815.50,195.51 827.38,197.03 839.25,200.21 851.12,197.70 863.00,203.32 874.88,200.38 886.75,198.87 898.62,197.70 910.50,195.93 922.38,189.47 934.25,191.07 946.12,190.15 958.00,190.15" fill="none" stroke="#0000ff" stroke-width="1.35" stroke-linejoin="round"/>
<path d="M670.20 202.81H675.80M673.00 200.01V205.61M670.34 200.15L675.66 205.47M670.34 205.47L675.66 200.15M682.08 203.07H687.67M684.88 200.27V205.87M682.22 200.41L687.53 205.73M682.22 205.73L687.53 200.41M693.95 203.74H699.55M696.75 200.94V206.54M694.09 201.08L699.41 206.40M694.09 206.40L699.41 201.08M705.83 202.81H711.42M708.62 200.01V205.61M705.97 200.15L711.28 205.47M705.97 205.47L711.28 200.15M717.70 206.17H723.30M720.50 203.37V208.97M717.84 203.51L723.16 208.83M717.84 208.83L723.16 203.51M729.58 199.04H735.17M732.38 196.24V201.84M729.72 196.38L735.03 201.70M729.72 201.70L735.03 196.38M741.45 201.30H747.05M744.25 198.50V204.10M741.59 198.64L746.91 203.96M741.59 203.96L746.91 198.64M753.33 200.38H758.92M756.12 197.58V203.18M753.47 197.72L758.78 203.04M753.47 203.04L758.78 197.72M765.20 195.51H770.80M768.00 192.71V198.31M765.34 192.85L770.66 198.17M765.34 198.17L770.66 192.85M777.08 195.01H782.67M779.88 192.21V197.81M777.22 192.35L782.53 197.67M777.22 197.67L782.53 192.35M788.95 195.93H794.55M791.75 193.13V198.73M789.09 193.27L794.41 198.59M789.09 198.59L794.41 193.27M800.83 199.54H806.42M803.62 196.74V202.34M800.97 196.88L806.28 202.20M800.97 202.20L806.28 196.88M812.70 195.51H818.30M815.50 192.71V198.31M812.84 192.85L818.16 198.17M812.84 198.17L818.16 192.85M824.58 197.03H830.17M827.38 194.22V199.83M824.72 194.37L830.03 199.69M824.72 199.69L830.03 194.37M836.45 200.21H842.05M839.25 197.41V203.01M836.59 197.55L841.91 202.87M836.59 202.87L841.91 197.55M848.33 197.70H853.92M851.12 194.90V200.50M848.47 195.04L853.78 200.36M848.47 200.36L853.78 195.04M860.20 203.32H865.80M863.00 200.52V206.12M860.34 200.66L865.66 205.98M860.34 205.98L865.66 200.66M872.08 200.38H877.67M874.88 197.58V203.18M872.22 197.72L877.53 203.04M872.22 203.04L877.53 197.72M883.95 198.87H889.55M886.75 196.07V201.67M884.09 196.21L889.41 201.53M884.09 201.53L889.41 196.21M895.83 197.70H901.42M898.62 194.90V200.50M895.97 195.04L901.28 200.36M895.97 200.36L901.28 195.04M907.70 195.93H913.30M910.50 193.13V198.73M907.84 193.27L913.16 198.59M907.84 198.59L913.16 193.27M919.58 189.47H925.17M922.38 186.67V192.27M919.72 186.81L925.03 192.13M919.72 192.13L925.03 186.81M931.45 191.07H937.05M934.25 188.27V193.87M931.59 188.41L936.91 193.73M931.59 193.73L936.91 188.41M943.33 190.15H948.92M946.12 187.35V192.95M943.47 187.49L948.78 192.81M943.47 192.81L948.78 187.49M955.20 190.15H960.80M958.00 187.35V192.95M955.34 187.49L960.66 192.81M955.34 192.81L960.66 187.49" fill="none" stroke="#0000ff" stroke-width="1.10"/>
<polyline points="673.00,190.15 684.88,189.47 696.75,191.07 708.62,191.07 720.50,191.91 732.38,193.50 744.25,193.50 756.12,192.83 768.00,188.80 779.88,158.68 791.75,141.57 803.62,151.80 815.50,150.46 827.38,156.92 839.25,154.24 851.12,165.39 863.00,168.33 874.88,164.30 886.75,161.20 898.62,163.63 910.50,162.04 922.38,164.30 934.25,172.78 946.12,181.00 958.00,183.94" fill="none" stroke="#ff0000" stroke-width="1.35" stroke-linejoin="round"/>
<path d="M670.20 190.15H675.80M673.00 187.35V192.95M670.34 187.49L675.66 192.81M670.34 192.81L675.66 187.49M682.08 189.47H687.67M684.88 186.67V192.27M682.22 186.81L687.53 192.13M682.22 192.13L687.53 186.81M693.95 191.07H699.55M696.75 188.27V193.87M694.09 188.41L699.41 193.73M694.09 193.73L699.41 188.41M705.83 191.07H711.42M708.62 188.27V193.87M705.97 188.41L711.28 193.73M705.97 193.73L711.28 188.41M717.70 191.91H723.30M720.50 189.11V194.71M717.84 189.25L723.16 194.57M717.84 194.57L723.16 189.25M729.58 193.50H735.17M732.38 190.70V196.30M729.72 190.84L735.03 196.16M729.72 196.16L735.03 190.84M741.45 193.50H747.05M744.25 190.70V196.30M741.59 190.84L746.91 196.16M741.59 196.16L746.91 190.84M753.33 192.83H758.92M756.12 190.03V195.63M753.47 190.17L758.78 195.49M753.47 195.49L758.78 190.17M765.20 188.80H770.80M768.00 186.00V191.60M765.34 186.14L770.66 191.46M765.34 191.46L770.66 186.14M777.08 158.68H782.67M779.88 155.88V161.48M777.22 156.02L782.53 161.34M777.22 161.34L782.53 156.02M788.95 141.57H794.55M791.75 138.77V144.37M789.09 138.91L794.41 144.23M789.09 144.23L794.41 138.91M800.83 151.80H806.42M803.62 149.00V154.60M800.97 149.14L806.28 154.46M800.97 154.46L806.28 149.14M812.70 150.46H818.30M815.50 147.66V153.26M812.84 147.80L818.16 153.12M812.84 153.12L818.16 147.80M824.58 156.92H830.17M827.38 154.12V159.72M824.72 154.26L830.03 159.58M824.72 159.58L830.03 154.26M836.45 154.24H842.05M839.25 151.44V157.04M836.59 151.58L841.91 156.90M836.59 156.90L841.91 151.58M848.33 165.39H853.92M851.12 162.59V168.19M848.47 162.73L853.78 168.05M848.47 168.05L853.78 162.73M860.20 168.33H865.80M863.00 165.53V171.13M860.34 165.67L865.66 170.99M860.34 170.99L865.66 165.67M872.08 164.30H877.67M874.88 161.50V167.10M872.22 161.64L877.53 166.96M872.22 166.96L877.53 161.64M883.95 161.20H889.55M886.75 158.40V164.00M884.09 158.54L889.41 163.86M884.09 163.86L889.41 158.54M895.83 163.63H901.42M898.62 160.83V166.43M895.97 160.97L901.28 166.29M895.97 166.29L901.28 160.97M907.70 162.04H913.30M910.50 159.24V164.84M907.84 159.38L913.16 164.70M907.84 164.70L913.16 159.38M919.58 164.30H925.17M922.38 161.50V167.10M919.72 161.64L925.03 166.96M919.72 166.96L925.03 161.64M931.45 172.78H937.05M934.25 169.98V175.58M931.59 170.12L936.91 175.44M931.59 175.44L936.91 170.12M943.33 181.00H948.92M946.12 178.20V183.80M943.47 178.34L948.78 183.66M943.47 183.66L948.78 178.34M955.20 183.94H960.80M958.00 181.14V186.74M955.34 181.28L960.66 186.60M955.34 186.60L960.66 181.28" fill="none" stroke="#ff0000" stroke-width="1.10"/>
</g>
<path d="M673.00 201.50H958.00M673.00 184.50H958.00M673.00 167.50H958.00M673.00 150.50H958.00M720.50 136.03V218.00M768.50 136.03V218.00M815.50 136.03V218.00M863.50 136.03V218.00M910.50 136.03V218.00" stroke="#000" stroke-width="1.10" stroke-dasharray="1.05 2.075" stroke-dashoffset="0.4" fill="none"/>
<path d="M673.00 218.00h7.50M958.00 218.00h-7.50M673.00 209.61h3.80M958.00 209.61h-3.80M673.00 201.22h7.50M958.00 201.22h-7.50M673.00 192.83h3.80M958.00 192.83h-3.80M673.00 184.44h7.50M958.00 184.44h-7.50M673.00 176.05h3.80M958.00 176.05h-3.80M673.00 167.66h7.50M958.00 167.66h-7.50M673.00 159.27h3.80M958.00 159.27h-3.80M673.00 150.88h7.50M958.00 150.88h-7.50M673.00 142.49h3.80M958.00 142.49h-3.80M673.00 134.10h7.50M958.00 134.10h-7.50M673.00 218.00v-5.60M673.00 134.10v5.60M696.75 218.00v-3.80M696.75 134.10v3.80M720.50 218.00v-5.60M720.50 134.10v5.60M744.25 218.00v-3.80M744.25 134.10v3.80M768.00 218.00v-5.60M768.00 134.10v5.60M791.75 218.00v-3.80M791.75 134.10v3.80M815.50 218.00v-5.60M815.50 134.10v5.60M839.25 218.00v-3.80M839.25 134.10v3.80M863.00 218.00v-5.60M863.00 134.10v5.60M886.75 218.00v-3.80M886.75 134.10v3.80M910.50 218.00v-5.60M910.50 134.10v5.60M934.25 218.00v-3.80M934.25 134.10v3.80M958.00 218.00v-5.60M958.00 134.10v5.60" stroke="#000" stroke-width="1.1" fill="none"/>
<rect x="673.00" y="134.10" width="285.00" height="83.90" fill="none" stroke="#000" stroke-width="1.95"/>
<g class="k" font-size="7.80"><text x="668.50" y="221.10" text-anchor="end">0</text><text x="668.50" y="204.32" text-anchor="end">20</text><text x="668.50" y="187.54" text-anchor="end">40</text><text x="668.50" y="170.76" text-anchor="end">60</text><text x="668.50" y="153.98" text-anchor="end">80</text><text x="668.50" y="137.20" text-anchor="end">100</text><text x="673.00" y="229.00" text-anchor="middle">0</text><text x="720.50" y="229.00" text-anchor="middle">4</text><text x="768.00" y="229.00" text-anchor="middle">8</text><text x="815.50" y="229.00" text-anchor="middle">12</text><text x="863.00" y="229.00" text-anchor="middle">16</text><text x="910.50" y="229.00" text-anchor="middle">20</text><text x="958.00" y="229.00" text-anchor="middle">24</text></g>
<text class="p" id="t_FSP" x="959.20" y="131.00" text-anchor="end" font-size="8.20" textLength="57.90" lengthAdjust="spacingAndGlyphs">FSP (ug/m3)</text>
<clipPath id="c5"><rect x="23.00" y="242.10" width="285.00" height="83.90"/></clipPath>
<g clip-path="url(#c5)">
<polyline points="23.00,318.93 34.88,315.21 46.75,315.21 58.62,319.77 70.50,319.77 82.38,319.77 94.25,319.77 106.12,319.77 118.00,315.69 129.88,315.21 141.75,310.54 153.62,315.21 165.50,315.21 177.38,315.21 189.25,305.62 201.12,301.19 213.00,295.68 224.88,286.69 236.75,283.33 248.62,301.55 260.50,310.54 272.38,310.54 284.25,306.10 296.12,306.10 308.00,310.54" fill="none" stroke="#00ffff" stroke-width="1.35" stroke-linejoin="round"/>
<path d="M20.20 318.93H25.80M23.00 316.13V321.73M20.34 316.27L25.66 321.59M20.34 321.59L25.66 316.27M32.08 315.21H37.67M34.88 312.41V318.01M32.22 312.55L37.53 317.87M32.22 317.87L37.53 312.55M43.95 315.21H49.55M46.75 312.41V318.01M44.09 312.55L49.41 317.87M44.09 317.87L49.41 312.55M55.83 319.77H61.42M58.62 316.97V322.57M55.97 317.11L61.28 322.43M55.97 322.43L61.28 317.11M67.70 319.77H73.30M70.50 316.97V322.57M67.84 317.11L73.16 322.43M67.84 322.43L73.16 317.11M79.58 319.77H85.17M82.38 316.97V322.57M79.72 317.11L85.03 322.43M79.72 322.43L85.03 317.11M91.45 319.77H97.05M94.25 316.97V322.57M91.59 317.11L96.91 322.43M91.59 322.43L96.91 317.11M103.33 319.77H108.92M106.12 316.97V322.57M103.47 317.11L108.78 322.43M103.47 322.43L108.78 317.11M115.20 315.69H120.80M118.00 312.89V318.49M115.34 313.03L120.66 318.35M115.34 318.35L120.66 313.03M127.08 315.21H132.68M129.88 312.41V318.01M127.22 312.55L132.53 317.87M127.22 317.87L132.53 312.55M138.95 310.54H144.55M141.75 307.74V313.34M139.09 307.88L144.41 313.20M139.09 313.20L144.41 307.88M150.82 315.21H156.43M153.62 312.41V318.01M150.97 312.55L156.28 317.87M150.97 317.87L156.28 312.55M162.70 315.21H168.30M165.50 312.41V318.01M162.84 312.55L168.16 317.87M162.84 317.87L168.16 312.55M174.57 315.21H180.18M177.38 312.41V318.01M174.72 312.55L180.03 317.87M174.72 317.87L180.03 312.55M186.45 305.62H192.05M189.25 302.82V308.42M186.59 302.96L191.91 308.28M186.59 308.28L191.91 302.96M198.32 301.19H203.93M201.12 298.39V303.99M198.47 298.53L203.78 303.85M198.47 303.85L203.78 298.53M210.20 295.68H215.80M213.00 292.88V298.48M210.34 293.02L215.66 298.34M210.34 298.34L215.66 293.02M222.07 286.69H227.68M224.88 283.89V289.49M222.22 284.03L227.53 289.35M222.22 289.35L227.53 284.03M233.95 283.33H239.55M236.75 280.53V286.13M234.09 280.67L239.41 285.99M234.09 285.99L239.41 280.67M245.82 301.55H251.43M248.62 298.75V304.35M245.97 298.89L251.28 304.21M245.97 304.21L251.28 298.89M257.70 310.54H263.30M260.50 307.74V313.34M257.84 307.88L263.16 313.20M257.84 313.20L263.16 307.88M269.57 310.54H275.18M272.38 307.74V313.34M269.71 307.88L275.04 313.20M269.71 313.20L275.04 307.88M281.45 306.10H287.05M284.25 303.30V308.90M281.59 303.44L286.91 308.76M281.59 308.76L286.91 303.44M293.32 306.10H298.93M296.12 303.30V308.90M293.46 303.44L298.79 308.76M293.46 308.76L298.79 303.44M305.20 310.54H310.80M308.00 307.74V313.34M305.34 307.88L310.66 313.20M305.34 313.20L310.66 307.88" fill="none" stroke="#00ffff" stroke-width="1.10"/>
<polyline points="23.00,310.54 34.88,315.21 46.75,315.21 58.62,315.21 70.50,319.77 82.38,315.21 94.25,315.21 106.12,315.21 118.00,310.54 129.88,315.21 141.75,315.21 153.62,310.54 165.50,296.63 177.38,306.10 189.25,301.19 201.12,287.41 213.00,292.20 236.75,259.96 248.62,278.42 260.50,287.77 272.38,310.54 284.25,310.54 296.12,306.10 308.00,315.69" fill="none" stroke="#00ff00" stroke-width="1.35" stroke-linejoin="round"/>
<path d="M20.20 310.54H25.80M23.00 307.74V313.34M20.34 307.88L25.66 313.20M20.34 313.20L25.66 307.88M32.08 315.21H37.67M34.88 312.41V318.01M32.22 312.55L37.53 317.87M32.22 317.87L37.53 312.55M43.95 315.21H49.55M46.75 312.41V318.01M44.09 312.55L49.41 317.87M44.09 317.87L49.41 312.55M55.83 315.21H61.42M58.62 312.41V318.01M55.97 312.55L61.28 317.87M55.97 317.87L61.28 312.55M67.70 319.77H73.30M70.50 316.97V322.57M67.84 317.11L73.16 322.43M67.84 322.43L73.16 317.11M79.58 315.21H85.17M82.38 312.41V318.01M79.72 312.55L85.03 317.87M79.72 317.87L85.03 312.55M91.45 315.21H97.05M94.25 312.41V318.01M91.59 312.55L96.91 317.87M91.59 317.87L96.91 312.55M103.33 315.21H108.92M106.12 312.41V318.01M103.47 312.55L108.78 317.87M103.47 317.87L108.78 312.55M115.20 310.54H120.80M118.00 307.74V313.34M115.34 307.88L120.66 313.20M115.34 313.20L120.66 307.88M127.08 315.21H132.68M129.88 312.41V318.01M127.22 312.55L132.53 317.87M127.22 317.87L132.53 312.55M138.95 315.21H144.55M141.75 312.41V318.01M139.09 312.55L144.41 317.87M139.09 317.87L144.41 312.55M150.82 310.54H156.43M153.62 307.74V313.34M150.97 307.88L156.28 313.20M150.97 313.20L156.28 307.88M162.70 296.63H168.30M165.50 293.83V299.44M162.84 293.97L168.16 299.30M162.84 299.30L168.16 293.97M174.57 306.10H180.18M177.38 303.30V308.90M174.72 303.44L180.03 308.76M174.72 308.76L180.03 303.44M186.45 301.19H192.05M189.25 298.39V303.99M186.59 298.53L191.91 303.85M186.59 303.85L191.91 298.53M198.32 287.41H203.93M201.12 284.61V290.21M198.47 284.75L203.78 290.07M198.47 290.07L203.78 284.75M210.20 292.20H215.80M213.00 289.40V295.00M210.34 289.54L215.66 294.86M210.34 294.86L215.66 289.54M233.95 259.96H239.55M236.75 257.16V262.76M234.09 257.30L239.41 262.62M234.09 262.62L239.41 257.30M245.82 278.42H251.43M248.62 275.62V281.22M245.97 275.76L251.28 281.08M245.97 281.08L251.28 275.76M257.70 287.77H263.30M260.50 284.97V290.57M257.84 285.11L263.16 290.43M257.84 290.43L263.16 285.11M269.57 310.54H275.18M272.38 307.74V313.34M269.71 307.88L275.04 313.20M269.71 313.20L275.04 307.88M281.45 310.54H287.05M284.25 307.74V313.34M281.59 307.88L286.91 313.20M281.59 313.20L286.91 307.88M293.32 306.10H298.93M296.12 303.30V308.90M293.46 303.44L298.79 308.76M293.46 308.76L298.79 303.44M305.20 315.69H310.80M308.00 312.89V318.49M305.34 313.03L310.66 318.35M305.34 318.35L310.66 313.03" fill="none" stroke="#00ff00" stroke-width="1.10"/>
<polyline points="23.00,315.69 34.88,315.21 46.75,315.21 58.62,315.21 70.50,315.21 82.38,315.21 94.25,315.21 106.12,315.21 118.00,305.62 129.88,305.62 141.75,315.21 153.62,310.54 165.50,301.19 177.38,296.63 189.25,301.19 201.12,301.55 213.00,292.20 224.88,282.85 236.75,287.77 248.62,273.74 260.50,269.31 272.38,273.74 284.25,269.31 296.12,255.52 308.00,250.97" fill="none" stroke="#0000ff" stroke-width="1.35" stroke-linejoin="round"/>
<path d="M20.20 315.69H25.80M23.00 312.89V318.49M20.34 313.03L25.66 318.35M20.34 318.35L25.66 313.03M32.08 315.21H37.67M34.88 312.41V318.01M32.22 312.55L37.53 317.87M32.22 317.87L37.53 312.55M43.95 315.21H49.55M46.75 312.41V318.01M44.09 312.55L49.41 317.87M44.09 317.87L49.41 312.55M55.83 315.21H61.42M58.62 312.41V318.01M55.97 312.55L61.28 317.87M55.97 317.87L61.28 312.55M67.70 315.21H73.30M70.50 312.41V318.01M67.84 312.55L73.16 317.87M67.84 317.87L73.16 312.55M79.58 315.21H85.17M82.38 312.41V318.01M79.72 312.55L85.03 317.87M79.72 317.87L85.03 312.55M91.45 315.21H97.05M94.25 312.41V318.01M91.59 312.55L96.91 317.87M91.59 317.87L96.91 312.55M103.33 315.21H108.92M106.12 312.41V318.01M103.47 312.55L108.78 317.87M103.47 317.87L108.78 312.55M115.20 305.62H120.80M118.00 302.82V308.42M115.34 302.96L120.66 308.28M115.34 308.28L120.66 302.96M127.08 305.62H132.68M129.88 302.82V308.42M127.22 302.96L132.53 308.28M127.22 308.28L132.53 302.96M138.95 315.21H144.55M141.75 312.41V318.01M139.09 312.55L144.41 317.87M139.09 317.87L144.41 312.55M150.82 310.54H156.43M153.62 307.74V313.34M150.97 307.88L156.28 313.20M150.97 313.20L156.28 307.88M162.70 301.19H168.30M165.50 298.39V303.99M162.84 298.53L168.16 303.85M162.84 303.85L168.16 298.53M174.57 296.63H180.18M177.38 293.83V299.44M174.72 293.97L180.03 299.30M174.72 299.30L180.03 293.97M186.45 301.19H192.05M189.25 298.39V303.99M186.59 298.53L191.91 303.85M186.59 303.85L191.91 298.53M198.32 301.55H203.93M201.12 298.75V304.35M198.47 298.89L203.78 304.21M198.47 304.21L203.78 298.89M210.20 292.20H215.80M213.00 289.40V295.00M210.34 289.54L215.66 294.86M210.34 294.86L215.66 289.54M222.07 282.85H227.68M224.88 280.05V285.65M222.22 280.19L227.53 285.51M222.22 285.51L227.53 280.19M233.95 287.77H239.55M236.75 284.97V290.57M234.09 285.11L239.41 290.43M234.09 290.43L239.41 285.11M245.82 273.74H251.43M248.62 270.94V276.54M245.97 271.08L251.28 276.40M245.97 276.40L251.28 271.08M257.70 269.31H263.30M260.50 266.51V272.11M257.84 266.65L263.16 271.97M257.84 271.97L263.16 266.65M269.57 273.74H275.18M272.38 270.94V276.54M269.71 271.08L275.04 276.40M269.71 276.40L275.04 271.08M281.45 269.31H287.05M284.25 266.51V272.11M281.59 266.65L286.91 271.97M281.59 271.97L286.91 266.65M293.32 255.52H298.93M296.12 252.72V258.32M293.46 252.86L298.79 258.18M293.46 258.18L298.79 252.86M305.20 250.97H310.80M308.00 248.17V253.77M305.34 248.31L310.66 253.63M305.34 253.63L310.66 248.31" fill="none" stroke="#0000ff" stroke-width="1.10"/>
<polyline points="23.00,251.69 34.88,265.11 46.75,278.42 58.62,283.33 70.50,297.11 82.38,292.20 94.25,297.11 106.12,301.55 118.00,292.20 129.88,278.42 141.75,278.42 153.62,283.33 165.50,265.11 177.38,251.69 189.25,255.52 201.12,269.55 213.00,265.11 224.88,260.68 236.75,246.53 248.62,278.42 260.50,292.20 272.38,296.63 284.25,301.19 296.12,305.62 308.00,305.62" fill="none" stroke="#ff0000" stroke-width="1.35" stroke-linejoin="round"/>
<path d="M20.20 251.69H25.80M23.00 248.89V254.49M20.34 249.03L25.66 254.35M20.34 254.35L25.66 249.03M32.08 265.11H37.67M34.88 262.31V267.91M32.22 262.45L37.53 267.77M32.22 267.77L37.53 262.45M43.95 278.42H49.55M46.75 275.62V281.22M44.09 275.76L49.41 281.08M44.09 281.08L49.41 275.76M55.83 283.33H61.42M58.62 280.53V286.13M55.97 280.67L61.28 285.99M55.97 285.99L61.28 280.67M67.70 297.11H73.30M70.50 294.31V299.91M67.84 294.45L73.16 299.77M67.84 299.77L73.16 294.45M79.58 292.20H85.17M82.38 289.40V295.00M79.72 289.54L85.03 294.86M79.72 294.86L85.03 289.54M91.45 297.11H97.05M94.25 294.31V299.91M91.59 294.45L96.91 299.77M91.59 299.77L96.91 294.45M103.33 301.55H108.92M106.12 298.75V304.35M103.47 298.89L108.78 304.21M103.47 304.21L108.78 298.89M115.20 292.20H120.80M118.00 289.40V295.00M115.34 289.54L120.66 294.86M115.34 294.86L120.66 289.54M127.08 278.42H132.68M129.88 275.62V281.22M127.22 275.76L132.53 281.08M127.22 281.08L132.53 275.76M138.95 278.42H144.55M141.75 275.62V281.22M139.09 275.76L144.41 281.08M139.09 281.08L144.41 275.76M150.82 283.33H156.43M153.62 280.53V286.13M150.97 280.67L156.28 285.99M150.97 285.99L156.28 280.67M162.70 265.11H168.30M165.50 262.31V267.91M162.84 262.45L168.16 267.77M162.84 267.77L168.16 262.45M174.57 251.69H180.18M177.38 248.89V254.49M174.72 249.03L180.03 254.35M174.72 254.35L180.03 249.03M186.45 255.52H192.05M189.25 252.72V258.32M186.59 252.86L191.91 258.18M186.59 258.18L191.91 252.86M198.32 269.55H203.93M201.12 266.75V272.35M198.47 266.89L203.78 272.21M198.47 272.21L203.78 266.89M210.20 265.11H215.80M213.00 262.31V267.91M210.34 262.45L215.66 267.77M210.34 267.77L215.66 262.45M222.07 260.68H227.68M224.88 257.88V263.48M222.22 258.02L227.53 263.34M222.22 263.34L227.53 258.02M233.95 246.53H239.55M236.75 243.73V249.33M234.09 243.87L239.41 249.19M234.09 249.19L239.41 243.87M245.82 278.42H251.43M248.62 275.62V281.22M245.97 275.76L251.28 281.08M245.97 281.08L251.28 275.76M257.70 292.20H263.30M260.50 289.40V295.00M257.84 289.54L263.16 294.86M257.84 294.86L263.16 289.54M269.57 296.63H275.18M272.38 293.83V299.44M269.71 293.97L275.04 299.30M269.71 299.30L275.04 293.97M281.45 301.19H287.05M284.25 298.39V303.99M281.59 298.53L286.91 303.85M281.59 303.85L286.91 298.53M293.32 305.62H298.93M296.12 302.82V308.42M293.46 302.96L298.79 308.28M293.46 308.28L298.79 302.96M305.20 305.62H310.80M308.00 302.82V308.42M305.34 302.96L310.66 308.28M305.34 308.28L310.66 302.96" fill="none" stroke="#ff0000" stroke-width="1.10"/>
<line x1="34.88" y1="315.21" x2="46.75" y2="315.21" stroke="#1a80d0" stroke-width="1.35"/>
<line x1="46.75" y1="315.21" x2="58.62" y2="315.21" stroke="#1a80d0" stroke-width="1.35"/>
<line x1="82.38" y1="315.21" x2="94.25" y2="315.21" stroke="#1a80d0" stroke-width="1.35"/>
<line x1="94.25" y1="315.21" x2="106.12" y2="315.21" stroke="#1a80d0" stroke-width="1.35"/>
<path d="M20.20 318.93H25.80M23.00 316.13V321.73M20.34 316.27L25.66 321.59M20.34 321.59L25.66 316.27M32.08 315.21H37.67M34.88 312.41V318.01M32.22 312.55L37.53 317.87M32.22 317.87L37.53 312.55M43.95 315.21H49.55M46.75 312.41V318.01M44.09 312.55L49.41 317.87M44.09 317.87L49.41 312.55M55.83 319.77H61.42M58.62 316.97V322.57M55.97 317.11L61.28 322.43M55.97 322.43L61.28 317.11M67.70 319.77H73.30M70.50 316.97V322.57M67.84 317.11L73.16 322.43M67.84 322.43L73.16 317.11M79.58 319.77H85.17M82.38 316.97V322.57M79.72 317.11L85.03 322.43M79.72 322.43L85.03 317.11M91.45 319.77H97.05M94.25 316.97V322.57M91.59 317.11L96.91 322.43M91.59 322.43L96.91 317.11M103.33 319.77H108.92M106.12 316.97V322.57M103.47 317.11L108.78 322.43M103.47 322.43L108.78 317.11M115.20 315.69H120.80M118.00 312.89V318.49M115.34 313.03L120.66 318.35M115.34 318.35L120.66 313.03M127.08 315.21H132.68M129.88 312.41V318.01M127.22 312.55L132.53 317.87M127.22 317.87L132.53 312.55M138.95 310.54H144.55M141.75 307.74V313.34M139.09 307.88L144.41 313.20M139.09 313.20L144.41 307.88M150.82 315.21H156.43M153.62 312.41V318.01M150.97 312.55L156.28 317.87M150.97 317.87L156.28 312.55M162.70 315.21H168.30M165.50 312.41V318.01M162.84 312.55L168.16 317.87M162.84 317.87L168.16 312.55M174.57 315.21H180.18M177.38 312.41V318.01M174.72 312.55L180.03 317.87M174.72 317.87L180.03 312.55M186.45 305.62H192.05M189.25 302.82V308.42M186.59 302.96L191.91 308.28M186.59 308.28L191.91 302.96M198.32 301.19H203.93M201.12 298.39V303.99M198.47 298.53L203.78 303.85M198.47 303.85L203.78 298.53M210.20 295.68H215.80M213.00 292.88V298.48M210.34 293.02L215.66 298.34M210.34 298.34L215.66 293.02M222.07 286.69H227.68M224.88 283.89V289.49M222.22 284.03L227.53 289.35M222.22 289.35L227.53 284.03M233.95 283.33H239.55M236.75 280.53V286.13M234.09 280.67L239.41 285.99M234.09 285.99L239.41 280.67M245.82 301.55H251.43M248.62 298.75V304.35M245.97 298.89L251.28 304.21M245.97 304.21L251.28 298.89M257.70 310.54H263.30M260.50 307.74V313.34M257.84 307.88L263.16 313.20M257.84 313.20L263.16 307.88M269.57 310.54H275.18M272.38 307.74V313.34M269.71 307.88L275.04 313.20M269.71 313.20L275.04 307.88M281.45 306.10H287.05M284.25 303.30V308.90M281.59 303.44L286.91 308.76M281.59 308.76L286.91 303.44M293.32 306.10H298.93M296.12 303.30V308.90M293.46 303.44L298.79 308.76M293.46 308.76L298.79 303.44M305.20 310.54H310.80M308.00 307.74V313.34M305.34 307.88L310.66 313.20M305.34 313.20L310.66 307.88" fill="none" stroke="#00ffff" stroke-width="1.10"/>
<path d="M20.20 310.54H25.80M23.00 307.74V313.34M20.34 307.88L25.66 313.20M20.34 313.20L25.66 307.88M32.08 315.21H37.67M34.88 312.41V318.01M32.22 312.55L37.53 317.87M32.22 317.87L37.53 312.55M43.95 315.21H49.55M46.75 312.41V318.01M44.09 312.55L49.41 317.87M44.09 317.87L49.41 312.55M55.83 315.21H61.42M58.62 312.41V318.01M55.97 312.55L61.28 317.87M55.97 317.87L61.28 312.55M67.70 319.77H73.30M70.50 316.97V322.57M67.84 317.11L73.16 322.43M67.84 322.43L73.16 317.11M79.58 315.21H85.17M82.38 312.41V318.01M79.72 312.55L85.03 317.87M79.72 317.87L85.03 312.55M91.45 315.21H97.05M94.25 312.41V318.01M91.59 312.55L96.91 317.87M91.59 317.87L96.91 312.55M103.33 315.21H108.92M106.12 312.41V318.01M103.47 312.55L108.78 317.87M103.47 317.87L108.78 312.55M115.20 310.54H120.80M118.00 307.74V313.34M115.34 307.88L120.66 313.20M115.34 313.20L120.66 307.88M127.08 315.21H132.68M129.88 312.41V318.01M127.22 312.55L132.53 317.87M127.22 317.87L132.53 312.55M138.95 315.21H144.55M141.75 312.41V318.01M139.09 312.55L144.41 317.87M139.09 317.87L144.41 312.55M150.82 310.54H156.43M153.62 307.74V313.34M150.97 307.88L156.28 313.20M150.97 313.20L156.28 307.88M162.70 296.63H168.30M165.50 293.83V299.44M162.84 293.97L168.16 299.30M162.84 299.30L168.16 293.97M174.57 306.10H180.18M177.38 303.30V308.90M174.72 303.44L180.03 308.76M174.72 308.76L180.03 303.44M186.45 301.19H192.05M189.25 298.39V303.99M186.59 298.53L191.91 303.85M186.59 303.85L191.91 298.53M198.32 287.41H203.93M201.12 284.61V290.21M198.47 284.75L203.78 290.07M198.47 290.07L203.78 284.75M210.20 292.20H215.80M213.00 289.40V295.00M210.34 289.54L215.66 294.86M210.34 294.86L215.66 289.54M233.95 259.96H239.55M236.75 257.16V262.76M234.09 257.30L239.41 262.62M234.09 262.62L239.41 257.30M245.82 278.42H251.43M248.62 275.62V281.22M245.97 275.76L251.28 281.08M245.97 281.08L251.28 275.76M257.70 287.77H263.30M260.50 284.97V290.57M257.84 285.11L263.16 290.43M257.84 290.43L263.16 285.11M269.57 310.54H275.18M272.38 307.74V313.34M269.71 307.88L275.04 313.20M269.71 313.20L275.04 307.88M281.45 310.54H287.05M284.25 307.74V313.34M281.59 307.88L286.91 313.20M281.59 313.20L286.91 307.88M293.32 306.10H298.93M296.12 303.30V308.90M293.46 303.44L298.79 308.76M293.46 308.76L298.79 303.44M305.20 315.69H310.80M308.00 312.89V318.49M305.34 313.03L310.66 318.35M305.34 318.35L310.66 313.03" fill="none" stroke="#00ff00" stroke-width="1.10"/>
<path d="M20.20 315.69H25.80M23.00 312.89V318.49M20.34 313.03L25.66 318.35M20.34 318.35L25.66 313.03M32.08 315.21H37.67M34.88 312.41V318.01M32.22 312.55L37.53 317.87M32.22 317.87L37.53 312.55M43.95 315.21H49.55M46.75 312.41V318.01M44.09 312.55L49.41 317.87M44.09 317.87L49.41 312.55M55.83 315.21H61.42M58.62 312.41V318.01M55.97 312.55L61.28 317.87M55.97 317.87L61.28 312.55M67.70 315.21H73.30M70.50 312.41V318.01M67.84 312.55L73.16 317.87M67.84 317.87L73.16 312.55M79.58 315.21H85.17M82.38 312.41V318.01M79.72 312.55L85.03 317.87M79.72 317.87L85.03 312.55M91.45 315.21H97.05M94.25 312.41V318.01M91.59 312.55L96.91 317.87M91.59 317.87L96.91 312.55M103.33 315.21H108.92M106.12 312.41V318.01M103.47 312.55L108.78 317.87M103.47 317.87L108.78 312.55M115.20 305.62H120.80M118.00 302.82V308.42M115.34 302.96L120.66 308.28M115.34 308.28L120.66 302.96M127.08 305.62H132.68M129.88 302.82V308.42M127.22 302.96L132.53 308.28M127.22 308.28L132.53 302.96M138.95 315.21H144.55M141.75 312.41V318.01M139.09 312.55L144.41 317.87M139.09 317.87L144.41 312.55M150.82 310.54H156.43M153.62 307.74V313.34M150.97 307.88L156.28 313.20M150.97 313.20L156.28 307.88M162.70 301.19H168.30M165.50 298.39V303.99M162.84 298.53L168.16 303.85M162.84 303.85L168.16 298.53M174.57 296.63H180.18M177.38 293.83V299.44M174.72 293.97L180.03 299.30M174.72 299.30L180.03 293.97M186.45 301.19H192.05M189.25 298.39V303.99M186.59 298.53L191.91 303.85M186.59 303.85L191.91 298.53M198.32 301.55H203.93M201.12 298.75V304.35M198.47 298.89L203.78 304.21M198.47 304.21L203.78 298.89M210.20 292.20H215.80M213.00 289.40V295.00M210.34 289.54L215.66 294.86M210.34 294.86L215.66 289.54M222.07 282.85H227.68M224.88 280.05V285.65M222.22 280.19L227.53 285.51M222.22 285.51L227.53 280.19M233.95 287.77H239.55M236.75 284.97V290.57M234.09 285.11L239.41 290.43M234.09 290.43L239.41 285.11M245.82 273.74H251.43M248.62 270.94V276.54M245.97 271.08L251.28 276.40M245.97 276.40L251.28 271.08M257.70 269.31H263.30M260.50 266.51V272.11M257.84 266.65L263.16 271.97M257.84 271.97L263.16 266.65M269.57 273.74H275.18M272.38 270.94V276.54M269.71 271.08L275.04 276.40M269.71 276.40L275.04 271.08M281.45 269.31H287.05M284.25 266.51V272.11M281.59 266.65L286.91 271.97M281.59 271.97L286.91 266.65M293.32 255.52H298.93M296.12 252.72V258.32M293.46 252.86L298.79 258.18M293.46 258.18L298.79 252.86M305.20 250.97H310.80M308.00 248.17V253.77M305.34 248.31L310.66 253.63M305.34 253.63L310.66 248.31" fill="none" stroke="#0000ff" stroke-width="1.10"/>
<path d="M20.20 251.69H25.80M23.00 248.89V254.49M20.34 249.03L25.66 254.35M20.34 254.35L25.66 249.03M32.08 265.11H37.67M34.88 262.31V267.91M32.22 262.45L37.53 267.77M32.22 267.77L37.53 262.45M43.95 278.42H49.55M46.75 275.62V281.22M44.09 275.76L49.41 281.08M44.09 281.08L49.41 275.76M55.83 283.33H61.42M58.62 280.53V286.13M55.97 280.67L61.28 285.99M55.97 285.99L61.28 280.67M67.70 297.11H73.30M70.50 294.31V299.91M67.84 294.45L73.16 299.77M67.84 299.77L73.16 294.45M79.58 292.20H85.17M82.38 289.40V295.00M79.72 289.54L85.03 294.86M79.72 294.86L85.03 289.54M91.45 297.11H97.05M94.25 294.31V299.91M91.59 294.45L96.91 299.77M91.59 299.77L96.91 294.45M103.33 301.55H108.92M106.12 298.75V304.35M103.47 298.89L108.78 304.21M103.47 304.21L108.78 298.89M115.20 292.20H120.80M118.00 289.40V295.00M115.34 289.54L120.66 294.86M115.34 294.86L120.66 289.54M127.08 278.42H132.68M129.88 275.62V281.22M127.22 275.76L132.53 281.08M127.22 281.08L132.53 275.76M138.95 278.42H144.55M141.75 275.62V281.22M139.09 275.76L144.41 281.08M139.09 281.08L144.41 275.76M150.82 283.33H156.43M153.62 280.53V286.13M150.97 280.67L156.28 285.99M150.97 285.99L156.28 280.67M162.70 265.11H168.30M165.50 262.31V267.91M162.84 262.45L168.16 267.77M162.84 267.77L168.16 262.45M174.57 251.69H180.18M177.38 248.89V254.49M174.72 249.03L180.03 254.35M174.72 254.35L180.03 249.03M186.45 255.52H192.05M189.25 252.72V258.32M186.59 252.86L191.91 258.18M186.59 258.18L191.91 252.86M198.32 269.55H203.93M201.12 266.75V272.35M198.47 266.89L203.78 272.21M198.47 272.21L203.78 266.89M210.20 265.11H215.80M213.00 262.31V267.91M210.34 262.45L215.66 267.77M210.34 267.77L215.66 262.45M222.07 260.68H227.68M224.88 257.88V263.48M222.22 258.02L227.53 263.34M222.22 263.34L227.53 258.02M233.95 246.53H239.55M236.75 243.73V249.33M234.09 243.87L239.41 249.19M234.09 249.19L239.41 243.87M245.82 278.42H251.43M248.62 275.62V281.22M245.97 275.76L251.28 281.08M245.97 281.08L251.28 275.76M257.70 292.20H263.30M260.50 289.40V295.00M257.84 289.54L263.16 294.86M257.84 294.86L263.16 289.54M269.57 296.63H275.18M272.38 293.83V299.44M269.71 293.97L275.04 299.30M269.71 299.30L275.04 293.97M281.45 301.19H287.05M284.25 298.39V303.99M281.59 298.53L286.91 303.85M281.59 303.85L286.91 298.53M293.32 305.62H298.93M296.12 302.82V308.42M293.46 302.96L298.79 308.28M293.46 308.28L298.79 302.96M305.20 305.62H310.80M308.00 302.82V308.42M305.34 302.96L310.66 308.28M305.34 308.28L310.66 302.96" fill="none" stroke="#ff0000" stroke-width="1.10"/>
</g>
<path d="M23.00 314.50H308.00M23.00 302.50H308.00M23.00 290.50H308.00M23.00 278.50H308.00M23.00 266.50H308.00M23.00 254.50H308.00M70.50 244.03V326.00M118.50 244.03V326.00M165.50 244.03V326.00M213.50 244.03V326.00M260.50 244.03V326.00" stroke="#000" stroke-width="1.10" stroke-dasharray="1.05 2.075" stroke-dashoffset="0.4" fill="none"/>
<path d="M23.00 326.00h7.50M308.00 326.00h-7.50M23.00 320.01h3.80M308.00 320.01h-3.80M23.00 314.01h7.50M308.00 314.01h-7.50M23.00 308.02h3.80M308.00 308.02h-3.80M23.00 302.03h7.50M308.00 302.03h-7.50M23.00 296.04h3.80M308.00 296.04h-3.80M23.00 290.04h7.50M308.00 290.04h-7.50M23.00 284.05h3.80M308.00 284.05h-3.80M23.00 278.06h7.50M308.00 278.06h-7.50M23.00 272.06h3.80M308.00 272.06h-3.80M23.00 266.07h7.50M308.00 266.07h-7.50M23.00 260.08h3.80M308.00 260.08h-3.80M23.00 254.09h7.50M308.00 254.09h-7.50M23.00 248.09h3.80M308.00 248.09h-3.80M23.00 242.10h7.50M308.00 242.10h-7.50M23.00 326.00v-5.60M23.00 242.10v5.60M46.75 326.00v-3.80M46.75 242.10v3.80M70.50 326.00v-5.60M70.50 242.10v5.60M94.25 326.00v-3.80M94.25 242.10v3.80M118.00 326.00v-5.60M118.00 242.10v5.60M141.75 326.00v-3.80M141.75 242.10v3.80M165.50 326.00v-5.60M165.50 242.10v5.60M189.25 326.00v-3.80M189.25 242.10v3.80M213.00 326.00v-5.60M213.00 242.10v5.60M236.75 326.00v-3.80M236.75 242.10v3.80M260.50 326.00v-5.60M260.50 242.10v5.60M284.25 326.00v-3.80M284.25 242.10v3.80M308.00 326.00v-5.60M308.00 242.10v5.60" stroke="#000" stroke-width="1.1" fill="none"/>
<rect x="23.00" y="242.10" width="285.00" height="83.90" fill="none" stroke="#000" stroke-width="1.95"/>
<g class="k" font-size="7.80"><text x="18.50" y="329.10" text-anchor="end">1</text><text x="18.50" y="317.11" text-anchor="end">2</text><text x="18.50" y="305.13" text-anchor="end">3</text><text x="18.50" y="293.14" text-anchor="end">4</text><text x="18.50" y="281.16" text-anchor="end">5</text><text x="18.50" y="269.17" text-anchor="end">6</text><text x="18.50" y="257.19" text-anchor="end">7</text><text x="18.50" y="245.20" text-anchor="end">8</text><text x="23.00" y="337.00" text-anchor="middle">0</text><text x="70.50" y="337.00" text-anchor="middle">4</text><text x="118.00" y="337.00" text-anchor="middle">8</text><text x="165.50" y="337.00" text-anchor="middle">12</text><text x="213.00" y="337.00" text-anchor="middle">16</text><text x="260.50" y="337.00" text-anchor="middle">20</text><text x="308.00" y="337.00" text-anchor="middle">24</text></g>
<text class="p" id="t_SO2" x="309.20" y="239.00" text-anchor="end" font-size="8.20" textLength="42.40" lengthAdjust="spacingAndGlyphs">SO2 (ppb)</text>
<clipPath id="c6"><rect x="348.10" y="242.10" width="285.00" height="83.90"/></clipPath>
<g clip-path="url(#c6)">
<polyline points="348.10,265.09 359.98,278.18 371.85,268.78 383.73,287.41 395.60,292.27 407.48,273.31 419.35,274.49 431.23,285.06 443.10,307.37 454.98,294.45 466.85,288.92 478.73,282.88 490.60,278.51 502.48,265.93 514.35,258.88 526.23,267.77 538.10,280.02 549.98,296.63 561.85,307.88 573.73,296.63 585.60,279.35 597.48,260.56 609.35,266.60 621.23,253.85 633.10,257.71" fill="none" stroke="#00ffff" stroke-width="1.35" stroke-linejoin="round"/>
<path d="M345.30 265.09H350.90M348.10 262.29V267.89M345.44 262.43L350.76 267.75M345.44 267.75L350.76 262.43M357.18 278.18H362.78M359.98 275.38V280.98M357.31 275.52L362.64 280.84M357.31 280.84L362.64 275.52M369.05 268.78H374.65M371.85 265.98V271.58M369.19 266.12L374.51 271.44M369.19 271.44L374.51 266.12M380.93 287.41H386.53M383.73 284.61V290.21M381.06 284.75L386.39 290.07M381.06 290.07L386.39 284.75M392.80 292.27H398.40M395.60 289.47V295.07M392.94 289.61L398.26 294.93M392.94 294.93L398.26 289.61M404.68 273.31H410.28M407.48 270.51V276.11M404.81 270.65L410.14 275.97M404.81 275.97L410.14 270.65M416.55 274.49H422.15M419.35 271.69V277.29M416.69 271.83L422.01 277.15M416.69 277.15L422.01 271.83M428.43 285.06H434.03M431.23 282.26V287.86M428.56 282.40L433.89 287.72M428.56 287.72L433.89 282.40M440.30 307.37H445.90M443.10 304.57V310.17M440.44 304.71L445.76 310.03M440.44 310.03L445.76 304.71M452.18 294.45H457.78M454.98 291.65V297.25M452.31 291.79L457.64 297.11M452.31 297.11L457.64 291.79M464.05 288.92H469.65M466.85 286.12V291.72M464.19 286.26L469.51 291.58M464.19 291.58L469.51 286.26M475.93 282.88H481.53M478.73 280.08V285.68M476.06 280.22L481.39 285.54M476.06 285.54L481.39 280.22M487.80 278.51H493.40M490.60 275.71V281.31M487.94 275.85L493.26 281.17M487.94 281.17L493.26 275.85M499.68 265.93H505.28M502.48 263.13V268.73M499.81 263.27L505.14 268.59M499.81 268.59L505.14 263.27M511.55 258.88H517.15M514.35 256.08V261.68M511.69 256.22L517.01 261.54M511.69 261.54L517.01 256.22M523.43 267.77H529.02M526.23 264.97V270.57M523.57 265.11L528.88 270.43M523.57 270.43L528.88 265.11M535.30 280.02H540.90M538.10 277.22V282.82M535.44 277.36L540.76 282.68M535.44 282.68L540.76 277.36M547.18 296.63H552.77M549.98 293.83V299.44M547.32 293.97L552.63 299.30M547.32 299.30L552.63 293.97M559.05 307.88H564.65M561.85 305.08V310.68M559.19 305.22L564.51 310.54M559.19 310.54L564.51 305.22M570.93 296.63H576.52M573.73 293.83V299.44M571.07 293.97L576.38 299.30M571.07 299.30L576.38 293.97M582.80 279.35H588.40M585.60 276.55V282.15M582.94 276.69L588.26 282.01M582.94 282.01L588.26 276.69M594.68 260.56H600.27M597.48 257.76V263.36M594.82 257.90L600.13 263.22M594.82 263.22L600.13 257.90M606.55 266.60H612.15M609.35 263.80V269.40M606.69 263.94L612.01 269.26M606.69 269.26L612.01 263.94M618.43 253.85H624.02M621.23 251.05V256.65M618.57 251.19L623.88 256.51M618.57 256.51L623.88 251.19M630.30 257.71H635.90M633.10 254.91V260.51M630.44 255.05L635.76 260.37M630.44 260.37L635.76 255.05" fill="none" stroke="#00ffff" stroke-width="1.10"/>
<polyline points="348.10,257.87 359.98,257.87 371.85,254.85 383.73,254.85 395.60,258.88 407.48,272.14 419.35,289.59 431.23,308.72 443.10,309.22 454.98,295.12 466.85,282.20 478.73,273.48 490.60,267.77 502.48,257.54 514.35,261.06 526.23,276.67 538.10,281.20 561.85,317.95 573.73,316.77 585.60,305.19 597.48,285.06 609.35,298.48 621.23,314.59 633.10,298.98" fill="none" stroke="#00ff00" stroke-width="1.35" stroke-linejoin="round"/>
<path d="M345.30 257.87H350.90M348.10 255.07V260.67M345.44 255.21L350.76 260.53M345.44 260.53L350.76 255.21M357.18 257.87H362.78M359.98 255.07V260.67M357.31 255.21L362.64 260.53M357.31 260.53L362.64 255.21M369.05 254.85H374.65M371.85 252.05V257.65M369.19 252.19L374.51 257.51M369.19 257.51L374.51 252.19M380.93 254.85H386.53M383.73 252.05V257.65M381.06 252.19L386.39 257.51M381.06 257.51L386.39 252.19M392.80 258.88H398.40M395.60 256.08V261.68M392.94 256.22L398.26 261.54M392.94 261.54L398.26 256.22M404.68 272.14H410.28M407.48 269.34V274.94M404.81 269.48L410.14 274.80M404.81 274.80L410.14 269.48M416.55 289.59H422.15M419.35 286.79V292.39M416.69 286.93L422.01 292.25M416.69 292.25L422.01 286.93M428.43 308.72H434.03M431.23 305.92V311.52M428.56 306.06L433.89 311.38M428.56 311.38L433.89 306.06M440.30 309.22H445.90M443.10 306.42V312.02M440.44 306.56L445.76 311.88M440.44 311.88L445.76 306.56M452.18 295.12H457.78M454.98 292.32V297.92M452.31 292.46L457.64 297.78M452.31 297.78L457.64 292.46M464.05 282.20H469.65M466.85 279.40V285.00M464.19 279.54L469.51 284.86M464.19 284.86L469.51 279.54M475.93 273.48H481.53M478.73 270.68V276.28M476.06 270.82L481.39 276.14M476.06 276.14L481.39 270.82M487.80 267.77H493.40M490.60 264.97V270.57M487.94 265.11L493.26 270.43M487.94 270.43L493.26 265.11M499.68 257.54H505.28M502.48 254.74V260.34M499.81 254.88L505.14 260.20M499.81 260.20L505.14 254.88M511.55 261.06H517.15M514.35 258.26V263.86M511.69 258.40L517.01 263.72M511.69 263.72L517.01 258.40M523.43 276.67H529.02M526.23 273.87V279.47M523.57 274.01L528.88 279.33M523.57 279.33L528.88 274.01M535.30 281.20H540.90M538.10 278.40V284.00M535.44 278.54L540.76 283.86M535.44 283.86L540.76 278.54M559.05 317.95H564.65M561.85 315.15V320.75M559.19 315.29L564.51 320.61M559.19 320.61L564.51 315.29M570.93 316.77H576.52M573.73 313.97V319.57M571.07 314.11L576.38 319.43M571.07 319.43L576.38 314.11M582.80 305.19H588.40M585.60 302.39V307.99M582.94 302.53L588.26 307.85M582.94 307.85L588.26 302.53M594.68 285.06H600.27M597.48 282.26V287.86M594.82 282.40L600.13 287.72M594.82 287.72L600.13 282.40M606.55 298.48H612.15M609.35 295.68V301.28M606.69 295.82L612.01 301.14M606.69 301.14L612.01 295.82M618.43 314.59H624.02M621.23 311.79V317.39M618.57 311.93L623.88 317.25M618.57 317.25L623.88 311.93M630.30 298.98H635.90M633.10 296.18V301.78M630.44 296.32L635.76 301.64M630.44 301.64L635.76 296.32" fill="none" stroke="#00ff00" stroke-width="1.10"/>
<polyline points="348.10,298.48 359.98,309.22 371.85,309.22 383.73,291.77 395.60,286.06 407.48,286.40 419.35,281.53 431.23,303.85 443.10,317.95 454.98,295.12 466.85,275.49 478.73,285.56 490.60,279.52 502.48,280.53 514.35,272.98 526.23,267.27 538.10,280.69 549.98,292.27 561.85,299.99 573.73,320.80 585.60,322.64 597.48,322.64 609.35,322.64 621.23,322.64 633.10,322.64" fill="none" stroke="#0000ff" stroke-width="1.35" stroke-linejoin="round"/>
<path d="M345.30 298.48H350.90M348.10 295.68V301.28M345.44 295.82L350.76 301.14M345.44 301.14L350.76 295.82M357.18 309.22H362.78M359.98 306.42V312.02M357.31 306.56L362.64 311.88M357.31 311.88L362.64 306.56M369.05 309.22H374.65M371.85 306.42V312.02M369.19 306.56L374.51 311.88M369.19 311.88L374.51 306.56M380.93 291.77H386.53M383.73 288.97V294.57M381.06 289.11L386.39 294.43M381.06 294.43L386.39 289.11M392.80 286.06H398.40M395.60 283.26V288.86M392.94 283.40L398.26 288.72M392.94 288.72L398.26 283.40M404.68 286.40H410.28M407.48 283.60V289.20M404.81 283.74L410.14 289.06M404.81 289.06L410.14 283.74M416.55 281.53H422.15M419.35 278.73V284.33M416.69 278.87L422.01 284.19M416.69 284.19L422.01 278.87M428.43 303.85H434.03M431.23 301.05V306.65M428.56 301.19L433.89 306.51M428.56 306.51L433.89 301.19M440.30 317.95H445.90M443.10 315.15V320.75M440.44 315.29L445.76 320.61M440.44 320.61L445.76 315.29M452.18 295.12H457.78M454.98 292.32V297.92M452.31 292.46L457.64 297.78M452.31 297.78L457.64 292.46M464.05 275.49H469.65M466.85 272.69V278.29M464.19 272.83L469.51 278.15M464.19 278.15L469.51 272.83M475.93 285.56H481.53M478.73 282.76V288.36M476.06 282.90L481.39 288.22M476.06 288.22L481.39 282.90M487.80 279.52H493.40M490.60 276.72V282.32M487.94 276.86L493.26 282.18M487.94 282.18L493.26 276.86M499.68 280.53H505.28M502.48 277.73V283.33M499.81 277.87L505.14 283.19M499.81 283.19L505.14 277.87M511.55 272.98H517.15M514.35 270.18V275.78M511.69 270.32L517.01 275.64M511.69 275.64L517.01 270.32M523.43 267.27H529.02M526.23 264.47V270.07M523.57 264.61L528.88 269.93M523.57 269.93L528.88 264.61M535.30 280.69H540.90M538.10 277.89V283.49M535.44 278.03L540.76 283.35M535.44 283.35L540.76 278.03M547.18 292.27H552.77M549.98 289.47V295.07M547.32 289.61L552.63 294.93M547.32 294.93L552.63 289.61M559.05 299.99H564.65M561.85 297.19V302.79M559.19 297.33L564.51 302.65M559.19 302.65L564.51 297.33M570.93 320.80H576.52M573.73 318.00V323.60M571.07 318.14L576.38 323.46M571.07 323.46L576.38 318.14M582.80 322.64H588.40M585.60 319.84V325.44M582.94 319.98L588.26 325.30M582.94 325.30L588.26 319.98M594.68 322.64H600.27M597.48 319.84V325.44M594.82 319.98L600.13 325.30M594.82 325.30L600.13 319.98M606.55 322.64H612.15M609.35 319.84V325.44M606.69 319.98L612.01 325.30M606.69 325.30L612.01 319.98M618.43 322.64H624.02M621.23 319.84V325.44M618.57 319.98L623.88 325.30M618.57 325.30L623.88 319.98M630.30 322.64H635.90M633.10 319.84V325.44M630.44 319.98L635.76 325.30M630.44 325.30L635.76 319.98" fill="none" stroke="#0000ff" stroke-width="1.10"/>
<polyline points="348.10,322.31 359.98,322.31 371.85,322.31 383.73,322.31 395.60,322.31 407.48,322.31 419.35,314.93 431.23,320.13 443.10,320.13 454.98,317.27 466.85,315.26 478.73,300.33 490.60,300.33 502.48,300.33 514.35,281.53 526.23,265.09 538.10,259.22 549.98,278.85 561.85,302.34 573.73,303.01 585.60,294.45 597.48,299.99 609.35,291.77 621.23,293.28 633.10,296.30" fill="none" stroke="#ff0000" stroke-width="1.35" stroke-linejoin="round"/>
<path d="M345.30 322.31H350.90M348.10 319.51V325.11M345.44 319.65L350.76 324.97M345.44 324.97L350.76 319.65M357.18 322.31H362.78M359.98 319.51V325.11M357.31 319.65L362.64 324.97M357.31 324.97L362.64 319.65M369.05 322.31H374.65M371.85 319.51V325.11M369.19 319.65L374.51 324.97M369.19 324.97L374.51 319.65M380.93 322.31H386.53M383.73 319.51V325.11M381.06 319.65L386.39 324.97M381.06 324.97L386.39 319.65M392.80 322.31H398.40M395.60 319.51V325.11M392.94 319.65L398.26 324.97M392.94 324.97L398.26 319.65M404.68 322.31H410.28M407.48 319.51V325.11M404.81 319.65L410.14 324.97M404.81 324.97L410.14 319.65M416.55 314.93H422.15M419.35 312.13V317.73M416.69 312.27L422.01 317.59M416.69 317.59L422.01 312.27M428.43 320.13H434.03M431.23 317.33V322.93M428.56 317.47L433.89 322.79M428.56 322.79L433.89 317.47M440.30 320.13H445.90M443.10 317.33V322.93M440.44 317.47L445.76 322.79M440.44 322.79L445.76 317.47M452.18 317.27H457.78M454.98 314.47V320.07M452.31 314.61L457.64 319.93M452.31 319.93L457.64 314.61M464.05 315.26H469.65M466.85 312.46V318.06M464.19 312.60L469.51 317.92M464.19 317.92L469.51 312.60M475.93 300.33H481.53M478.73 297.53V303.13M476.06 297.67L481.39 302.99M476.06 302.99L481.39 297.67M487.80 300.33H493.40M490.60 297.53V303.13M487.94 297.67L493.26 302.99M487.94 302.99L493.26 297.67M499.68 300.33H505.28M502.48 297.53V303.13M499.81 297.67L505.14 302.99M499.81 302.99L505.14 297.67M511.55 281.53H517.15M514.35 278.73V284.33M511.69 278.87L517.01 284.19M511.69 284.19L517.01 278.87M523.43 265.09H529.02M526.23 262.29V267.89M523.57 262.43L528.88 267.75M523.57 267.75L528.88 262.43M535.30 259.22H540.90M538.10 256.42V262.02M535.44 256.56L540.76 261.88M535.44 261.88L540.76 256.56M547.18 278.85H552.77M549.98 276.05V281.65M547.32 276.19L552.63 281.51M547.32 281.51L552.63 276.19M559.05 302.34H564.65M561.85 299.54V305.14M559.19 299.68L564.51 305.00M559.19 305.00L564.51 299.68M570.93 303.01H576.52M573.73 300.21V305.81M571.07 300.35L576.38 305.67M571.07 305.67L576.38 300.35M582.80 294.45H588.40M585.60 291.65V297.25M582.94 291.79L588.26 297.11M582.94 297.11L588.26 291.79M594.68 299.99H600.27M597.48 297.19V302.79M594.82 297.33L600.13 302.65M594.82 302.65L600.13 297.33M606.55 291.77H612.15M609.35 288.97V294.57M606.69 289.11L612.01 294.43M606.69 294.43L612.01 289.11M618.43 293.28H624.02M621.23 290.48V296.08M618.57 290.62L623.88 295.94M618.57 295.94L623.88 290.62M630.30 296.30H635.90M633.10 293.50V299.10M630.44 293.64L635.76 298.96M630.44 298.96L635.76 293.64" fill="none" stroke="#ff0000" stroke-width="1.10"/>
</g>
<path d="M348.10 309.50H633.10M348.10 292.50H633.10M348.10 275.50H633.10M348.10 258.50H633.10M395.50 244.03V326.00M443.50 244.03V326.00M490.50 244.03V326.00M538.50 244.03V326.00M585.50 244.03V326.00" stroke="#000" stroke-width="1.10" stroke-dasharray="1.05 2.075" stroke-dashoffset="0.4" fill="none"/>
<path d="M348.10 326.00h7.50M633.10 326.00h-7.50M348.10 317.61h3.80M633.10 317.61h-3.80M348.10 309.22h7.50M633.10 309.22h-7.50M348.10 300.83h3.80M633.10 300.83h-3.80M348.10 292.44h7.50M633.10 292.44h-7.50M348.10 284.05h3.80M633.10 284.05h-3.80M348.10 275.66h7.50M633.10 275.66h-7.50M348.10 267.27h3.80M633.10 267.27h-3.80M348.10 258.88h7.50M633.10 258.88h-7.50M348.10 250.49h3.80M633.10 250.49h-3.80M348.10 242.10h7.50M633.10 242.10h-7.50M348.10 326.00v-5.60M348.10 242.10v5.60M371.85 326.00v-3.80M371.85 242.10v3.80M395.60 326.00v-5.60M395.60 242.10v5.60M419.35 326.00v-3.80M419.35 242.10v3.80M443.10 326.00v-5.60M443.10 242.10v5.60M466.85 326.00v-3.80M466.85 242.10v3.80M490.60 326.00v-5.60M490.60 242.10v5.60M514.35 326.00v-3.80M514.35 242.10v3.80M538.10 326.00v-5.60M538.10 242.10v5.60M561.85 326.00v-3.80M561.85 242.10v3.80M585.60 326.00v-5.60M585.60 242.10v5.60M609.35 326.00v-3.80M609.35 242.10v3.80M633.10 326.00v-5.60M633.10 242.10v5.60" stroke="#000" stroke-width="1.1" fill="none"/>
<rect x="348.10" y="242.10" width="285.00" height="83.90" fill="none" stroke="#000" stroke-width="1.95"/>
<g class="k" font-size="7.80"><text x="343.60" y="329.10" text-anchor="end">0</text><text x="343.60" y="312.32" text-anchor="end">10</text><text x="343.60" y="295.54" text-anchor="end">20</text><text x="343.60" y="278.76" text-anchor="end">30</text><text x="343.60" y="261.98" text-anchor="end">40</text><text x="343.60" y="245.20" text-anchor="end">50</text><text x="348.10" y="337.00" text-anchor="middle">0</text><text x="395.60" y="337.00" text-anchor="middle">4</text><text x="443.10" y="337.00" text-anchor="middle">8</text><text x="490.60" y="337.00" text-anchor="middle">12</text><text x="538.10" y="337.00" text-anchor="middle">16</text><text x="585.60" y="337.00" text-anchor="middle">20</text><text x="633.10" y="337.00" text-anchor="middle">24</text></g>
<text class="p" id="t_O3" x="634.30" y="239.00" text-anchor="end" font-size="8.20" textLength="38.20" lengthAdjust="spacingAndGlyphs">O3 (ppb)</text>
<clipPath id="c7"><rect x="673.00" y="242.10" width="285.00" height="83.90"/></clipPath>
<g clip-path="url(#c7)">
<polyline points="673.00,314.99 684.88,314.15 696.75,317.92 708.62,312.26 720.50,311.21 732.38,309.64 744.25,307.86 756.12,315.83 768.00,295.59 779.88,302.51 791.75,310.06 803.62,309.64 815.50,313.62 827.38,316.77 839.25,316.77 851.12,313.62 863.00,310.48 874.88,307.86 886.75,307.86 898.62,307.44 910.50,307.44 922.38,314.15 934.25,315.62 946.12,317.40 958.00,318.13" fill="none" stroke="#00ffff" stroke-width="1.35" stroke-linejoin="round"/>
<path d="M670.20 314.99H675.80M673.00 312.19V317.79M670.34 312.33L675.66 317.65M670.34 317.65L675.66 312.33M682.08 314.15H687.67M684.88 311.35V316.95M682.22 311.49L687.53 316.81M682.22 316.81L687.53 311.49M693.95 317.92H699.55M696.75 315.12V320.72M694.09 315.26L699.41 320.58M694.09 320.58L699.41 315.26M705.83 312.26H711.42M708.62 309.46V315.06M705.97 309.60L711.28 314.92M705.97 314.92L711.28 309.60M717.70 311.21H723.30M720.50 308.41V314.01M717.84 308.55L723.16 313.87M717.84 313.87L723.16 308.55M729.58 309.64H735.17M732.38 306.84V312.44M729.72 306.98L735.03 312.30M729.72 312.30L735.03 306.98M741.45 307.86H747.05M744.25 305.06V310.66M741.59 305.20L746.91 310.52M741.59 310.52L746.91 305.20M753.33 315.83H758.92M756.12 313.03V318.63M753.47 313.17L758.78 318.49M753.47 318.49L758.78 313.17M765.20 295.59H770.80M768.00 292.79V298.39M765.34 292.93L770.66 298.25M765.34 298.25L770.66 292.93M777.08 302.51H782.67M779.88 299.71V305.31M777.22 299.85L782.53 305.17M777.22 305.17L782.53 299.85M788.95 310.06H794.55M791.75 307.26V312.86M789.09 307.40L794.41 312.72M789.09 312.72L794.41 307.40M800.83 309.64H806.42M803.62 306.84V312.44M800.97 306.98L806.28 312.30M800.97 312.30L806.28 306.98M812.70 313.62H818.30M815.50 310.82V316.42M812.84 310.96L818.16 316.28M812.84 316.28L818.16 310.96M824.58 316.77H830.17M827.38 313.97V319.57M824.72 314.11L830.03 319.43M824.72 319.43L830.03 314.11M836.45 316.77H842.05M839.25 313.97V319.57M836.59 314.11L841.91 319.43M836.59 319.43L841.91 314.11M848.33 313.62H853.92M851.12 310.82V316.42M848.47 310.96L853.78 316.28M848.47 316.28L853.78 310.96M860.20 310.48H865.80M863.00 307.68V313.28M860.34 307.82L865.66 313.14M860.34 313.14L865.66 307.82M872.08 307.86H877.67M874.88 305.06V310.66M872.22 305.20L877.53 310.52M872.22 310.52L877.53 305.20M883.95 307.86H889.55M886.75 305.06V310.66M884.09 305.20L889.41 310.52M884.09 310.52L889.41 305.20M895.83 307.44H901.42M898.62 304.64V310.24M895.97 304.78L901.28 310.10M895.97 310.10L901.28 304.78M907.70 307.44H913.30M910.50 304.64V310.24M907.84 304.78L913.16 310.10M907.84 310.10L913.16 304.78M919.58 314.15H925.17M922.38 311.35V316.95M919.72 311.49L925.03 316.81M919.72 316.81L925.03 311.49M931.45 315.62H937.05M934.25 312.82V318.42M931.59 312.96L936.91 318.28M931.59 318.28L936.91 312.96M943.33 317.40H948.92M946.12 314.60V320.20M943.47 314.74L948.78 320.06M943.47 320.06L948.78 314.74M955.20 318.13H960.80M958.00 315.33V320.93M955.34 315.47L960.66 320.79M955.34 320.79L960.66 315.47" fill="none" stroke="#00ffff" stroke-width="1.10"/>
<polyline points="673.00,318.97 684.88,320.55 696.75,320.55 708.62,321.70 720.50,319.71 732.38,316.35 744.25,311.84 756.12,306.91 768.00,301.14 779.88,315.83 791.75,319.71 803.62,316.77 815.50,320.34 827.38,320.13 839.25,316.77 851.12,314.15 863.00,312.47 886.75,301.67 898.62,303.35 910.50,303.87 922.38,308.28 934.25,307.86 946.12,302.93 958.00,312.79" fill="none" stroke="#00ff00" stroke-width="1.35" stroke-linejoin="round"/>
<path d="M670.20 318.97H675.80M673.00 316.17V321.77M670.34 316.31L675.66 321.63M670.34 321.63L675.66 316.31M682.08 320.55H687.67M684.88 317.75V323.35M682.22 317.89L687.53 323.21M682.22 323.21L687.53 317.89M693.95 320.55H699.55M696.75 317.75V323.35M694.09 317.89L699.41 323.21M694.09 323.21L699.41 317.89M705.83 321.70H711.42M708.62 318.90V324.50M705.97 319.04L711.28 324.36M705.97 324.36L711.28 319.04M717.70 319.71H723.30M720.50 316.91V322.51M717.84 317.05L723.16 322.37M717.84 322.37L723.16 317.05M729.58 316.35H735.17M732.38 313.55V319.15M729.72 313.69L735.03 319.01M729.72 319.01L735.03 313.69M741.45 311.84H747.05M744.25 309.04V314.64M741.59 309.18L746.91 314.50M741.59 314.50L746.91 309.18M753.33 306.91H758.92M756.12 304.11V309.71M753.47 304.25L758.78 309.57M753.47 309.57L758.78 304.25M765.20 301.14H770.80M768.00 298.34V303.94M765.34 298.48L770.66 303.80M765.34 303.80L770.66 298.48M777.08 315.83H782.67M779.88 313.03V318.63M777.22 313.17L782.53 318.49M777.22 318.49L782.53 313.17M788.95 319.71H794.55M791.75 316.91V322.51M789.09 317.05L794.41 322.37M789.09 322.37L794.41 317.05M800.83 316.77H806.42M803.62 313.97V319.57M800.97 314.11L806.28 319.43M800.97 319.43L806.28 314.11M812.70 320.34H818.30M815.50 317.54V323.14M812.84 317.68L818.16 323.00M812.84 323.00L818.16 317.68M824.58 320.13H830.17M827.38 317.33V322.93M824.72 317.47L830.03 322.79M824.72 322.79L830.03 317.47M836.45 316.77H842.05M839.25 313.97V319.57M836.59 314.11L841.91 319.43M836.59 319.43L841.91 314.11M848.33 314.15H853.92M851.12 311.35V316.95M848.47 311.49L853.78 316.81M848.47 316.81L853.78 311.49M860.20 312.47H865.80M863.00 309.67V315.27M860.34 309.81L865.66 315.13M860.34 315.13L865.66 309.81M883.95 301.67H889.55M886.75 298.87V304.47M884.09 299.01L889.41 304.33M884.09 304.33L889.41 299.01M895.83 303.35H901.42M898.62 300.55V306.15M895.97 300.69L901.28 306.01M895.97 306.01L901.28 300.69M907.70 303.87H913.30M910.50 301.07V306.67M907.84 301.21L913.16 306.53M907.84 306.53L913.16 301.21M919.58 308.28H925.17M922.38 305.48V311.08M919.72 305.62L925.03 310.94M919.72 310.94L925.03 305.62M931.45 307.86H937.05M934.25 305.06V310.66M931.59 305.20L936.91 310.52M931.59 310.52L936.91 305.20M943.33 302.93H948.92M946.12 300.13V305.73M943.47 300.27L948.78 305.59M943.47 305.59L948.78 300.27M955.20 312.79H960.80M958.00 309.99V315.59M955.34 310.13L960.66 315.45M955.34 315.45L960.66 310.13" fill="none" stroke="#00ff00" stroke-width="1.10"/>
<polyline points="673.00,312.79 684.88,309.64 696.75,311.21 708.62,314.99 720.50,315.51 732.38,309.64 744.25,311.21 756.12,304.71 768.00,288.66 779.88,310.06 791.75,315.62 803.62,309.43 815.50,316.77 827.38,319.39 839.25,319.39 851.12,319.39 863.00,316.77 874.88,317.40 886.75,316.77 898.62,305.65 910.50,305.65 922.38,298.52 934.25,301.14 946.12,298.52 958.00,296.74" fill="none" stroke="#0000ff" stroke-width="1.35" stroke-linejoin="round"/>
<path d="M670.20 312.79H675.80M673.00 309.99V315.59M670.34 310.13L675.66 315.45M670.34 315.45L675.66 310.13M682.08 309.64H687.67M684.88 306.84V312.44M682.22 306.98L687.53 312.30M682.22 312.30L687.53 306.98M693.95 311.21H699.55M696.75 308.41V314.01M694.09 308.55L699.41 313.87M694.09 313.87L699.41 308.55M705.83 314.99H711.42M708.62 312.19V317.79M705.97 312.33L711.28 317.65M705.97 317.65L711.28 312.33M717.70 315.51H723.30M720.50 312.71V318.31M717.84 312.85L723.16 318.17M717.84 318.17L723.16 312.85M729.58 309.64H735.17M732.38 306.84V312.44M729.72 306.98L735.03 312.30M729.72 312.30L735.03 306.98M741.45 311.21H747.05M744.25 308.41V314.01M741.59 308.55L746.91 313.87M741.59 313.87L746.91 308.55M753.33 304.71H758.92M756.12 301.91V307.51M753.47 302.05L758.78 307.37M753.47 307.37L758.78 302.05M765.20 288.66H770.80M768.00 285.86V291.46M765.34 286.00L770.66 291.32M765.34 291.32L770.66 286.00M777.08 310.06H782.67M779.88 307.26V312.86M777.22 307.40L782.53 312.72M777.22 312.72L782.53 307.40M788.95 315.62H794.55M791.75 312.82V318.42M789.09 312.96L794.41 318.28M789.09 318.28L794.41 312.96M800.83 309.43H806.42M803.62 306.63V312.23M800.97 306.77L806.28 312.09M800.97 312.09L806.28 306.77M812.70 316.77H818.30M815.50 313.97V319.57M812.84 314.11L818.16 319.43M812.84 319.43L818.16 314.11M824.58 319.39H830.17M827.38 316.59V322.19M824.72 316.73L830.03 322.05M824.72 322.05L830.03 316.73M836.45 319.39H842.05M839.25 316.59V322.19M836.59 316.73L841.91 322.05M836.59 322.05L841.91 316.73M848.33 319.39H853.92M851.12 316.59V322.19M848.47 316.73L853.78 322.05M848.47 322.05L853.78 316.73M860.20 316.77H865.80M863.00 313.97V319.57M860.34 314.11L865.66 319.43M860.34 319.43L865.66 314.11M872.08 317.40H877.67M874.88 314.60V320.20M872.22 314.74L877.53 320.06M872.22 320.06L877.53 314.74M883.95 316.77H889.55M886.75 313.97V319.57M884.09 314.11L889.41 319.43M884.09 319.43L889.41 314.11M895.83 305.65H901.42M898.62 302.85V308.45M895.97 302.99L901.28 308.31M895.97 308.31L901.28 302.99M907.70 305.65H913.30M910.50 302.85V308.45M907.84 302.99L913.16 308.31M907.84 308.31L913.16 302.99M919.58 298.52H925.17M922.38 295.72V301.32M919.72 295.86L925.03 301.18M919.72 301.18L925.03 295.86M931.45 301.14H937.05M934.25 298.34V303.94M931.59 298.48L936.91 303.80M931.59 303.80L936.91 298.48M943.33 298.52H948.92M946.12 295.72V301.32M943.47 295.86L948.78 301.18M943.47 301.18L948.78 295.86M955.20 296.74H960.80M958.00 293.94V299.54M955.34 294.08L960.66 299.40M955.34 299.40L960.66 294.08" fill="none" stroke="#0000ff" stroke-width="1.10"/>
<polyline points="673.00,296.74 684.88,291.18 696.75,292.96 708.62,296.22 720.50,298.00 732.38,298.94 744.25,304.71 756.12,298.52 768.00,270.42 779.88,249.44 791.75,252.17 803.62,256.57 815.50,266.64 827.38,266.64 839.25,267.69 851.12,268.42 863.00,270.42 874.88,272.20 886.75,271.46 898.62,258.36 910.50,263.91 922.38,266.64 934.25,275.97 946.12,278.49 958.00,280.27" fill="none" stroke="#ff0000" stroke-width="1.35" stroke-linejoin="round"/>
<path d="M670.20 296.74H675.80M673.00 293.94V299.54M670.34 294.08L675.66 299.40M670.34 299.40L675.66 294.08M682.08 291.18H687.67M684.88 288.38V293.98M682.22 288.52L687.53 293.84M682.22 293.84L687.53 288.52M693.95 292.96H699.55M696.75 290.16V295.76M694.09 290.30L699.41 295.62M694.09 295.62L699.41 290.30M705.83 296.22H711.42M708.62 293.42V299.02M705.97 293.56L711.28 298.88M705.97 298.88L711.28 293.56M717.70 298.00H723.30M720.50 295.20V300.80M717.84 295.34L723.16 300.66M717.84 300.66L723.16 295.34M729.58 298.94H735.17M732.38 296.14V301.74M729.72 296.28L735.03 301.60M729.72 301.60L735.03 296.28M741.45 304.71H747.05M744.25 301.91V307.51M741.59 302.05L746.91 307.37M741.59 307.37L746.91 302.05M753.33 298.52H758.92M756.12 295.72V301.32M753.47 295.86L758.78 301.18M753.47 301.18L758.78 295.86M765.20 270.42H770.80M768.00 267.62V273.22M765.34 267.76L770.66 273.08M765.34 273.08L770.66 267.76M777.08 249.44H782.67M779.88 246.64V252.24M777.22 246.78L782.53 252.10M777.22 252.10L782.53 246.78M788.95 252.17H794.55M791.75 249.37V254.97M789.09 249.51L794.41 254.83M789.09 254.83L794.41 249.51M800.83 256.57H806.42M803.62 253.77V259.37M800.97 253.91L806.28 259.23M800.97 259.23L806.28 253.91M812.70 266.64H818.30M815.50 263.84V269.44M812.84 263.98L818.16 269.30M812.84 269.30L818.16 263.98M824.58 266.64H830.17M827.38 263.84V269.44M824.72 263.98L830.03 269.30M824.72 269.30L830.03 263.98M836.45 267.69H842.05M839.25 264.89V270.49M836.59 265.03L841.91 270.35M836.59 270.35L841.91 265.03M848.33 268.42H853.92M851.12 265.62V271.22M848.47 265.76L853.78 271.08M848.47 271.08L853.78 265.76M860.20 270.42H865.80M863.00 267.62V273.22M860.34 267.76L865.66 273.08M860.34 273.08L865.66 267.76M872.08 272.20H877.67M874.88 269.40V275.00M872.22 269.54L877.53 274.86M872.22 274.86L877.53 269.54M883.95 271.46H889.55M886.75 268.66V274.26M884.09 268.80L889.41 274.12M884.09 274.12L889.41 268.80M895.83 258.36H901.42M898.62 255.56V261.16M895.97 255.70L901.28 261.02M895.97 261.02L901.28 255.70M907.70 263.91H913.30M910.50 261.11V266.71M907.84 261.25L913.16 266.57M907.84 266.57L913.16 261.25M919.58 266.64H925.17M922.38 263.84V269.44M919.72 263.98L925.03 269.30M919.72 269.30L925.03 263.98M931.45 275.97H937.05M934.25 273.17V278.77M931.59 273.31L936.91 278.63M931.59 278.63L936.91 273.31M943.33 278.49H948.92M946.12 275.69V281.29M943.47 275.83L948.78 281.15M943.47 281.15L948.78 275.83M955.20 280.27H960.80M958.00 277.47V283.07M955.34 277.61L960.66 282.93M955.34 282.93L960.66 277.61" fill="none" stroke="#ff0000" stroke-width="1.10"/>
</g>
<path d="M673.00 315.50H958.00M673.00 305.50H958.00M673.00 294.50H958.00M673.00 284.50H958.00M673.00 273.50H958.00M673.00 263.50H958.00M673.00 252.50H958.00M720.50 244.03V326.00M768.50 244.03V326.00M815.50 244.03V326.00M863.50 244.03V326.00M910.50 244.03V326.00" stroke="#000" stroke-width="1.10" stroke-dasharray="1.05 2.075" stroke-dashoffset="0.4" fill="none"/>
<path d="M673.00 326.00h7.50M958.00 326.00h-7.50M673.00 320.76h3.80M958.00 320.76h-3.80M673.00 315.51h7.50M958.00 315.51h-7.50M673.00 310.27h3.80M958.00 310.27h-3.80M673.00 305.02h7.50M958.00 305.02h-7.50M673.00 299.78h3.80M958.00 299.78h-3.80M673.00 294.54h7.50M958.00 294.54h-7.50M673.00 289.29h3.80M958.00 289.29h-3.80M673.00 284.05h7.50M958.00 284.05h-7.50M673.00 278.81h3.80M958.00 278.81h-3.80M673.00 273.56h7.50M958.00 273.56h-7.50M673.00 268.32h3.80M958.00 268.32h-3.80M673.00 263.07h7.50M958.00 263.07h-7.50M673.00 257.83h3.80M958.00 257.83h-3.80M673.00 252.59h7.50M958.00 252.59h-7.50M673.00 247.34h3.80M958.00 247.34h-3.80M673.00 242.10h7.50M958.00 242.10h-7.50M673.00 326.00v-5.60M673.00 242.10v5.60M696.75 326.00v-3.80M696.75 242.10v3.80M720.50 326.00v-5.60M720.50 242.10v5.60M744.25 326.00v-3.80M744.25 242.10v3.80M768.00 326.00v-5.60M768.00 242.10v5.60M791.75 326.00v-3.80M791.75 242.10v3.80M815.50 326.00v-5.60M815.50 242.10v5.60M839.25 326.00v-3.80M839.25 242.10v3.80M863.00 326.00v-5.60M863.00 242.10v5.60M886.75 326.00v-3.80M886.75 242.10v3.80M910.50 326.00v-5.60M910.50 242.10v5.60M934.25 326.00v-3.80M934.25 242.10v3.80M958.00 326.00v-5.60M958.00 242.10v5.60" stroke="#000" stroke-width="1.1" fill="none"/>
<rect x="673.00" y="242.10" width="285.00" height="83.90" fill="none" stroke="#000" stroke-width="1.95"/>
<g class="k" font-size="7.80"><text x="668.50" y="329.10" text-anchor="end">0.6</text><text x="668.50" y="318.61" text-anchor="end">0.7</text><text x="668.50" y="308.12" text-anchor="end">0.8</text><text x="668.50" y="297.64" text-anchor="end">0.9</text><text x="668.50" y="287.15" text-anchor="end">1.0</text><text x="668.50" y="276.66" text-anchor="end">1.1</text><text x="668.50" y="266.18" text-anchor="end">1.2</text><text x="668.50" y="255.69" text-anchor="end">1.3</text><text x="668.50" y="245.20" text-anchor="end">1.4</text><text x="673.00" y="337.00" text-anchor="middle">0</text><text x="720.50" y="337.00" text-anchor="middle">4</text><text x="768.00" y="337.00" text-anchor="middle">8</text><text x="815.50" y="337.00" text-anchor="middle">12</text><text x="863.00" y="337.00" text-anchor="middle">16</text><text x="910.50" y="337.00" text-anchor="middle">20</text><text x="958.00" y="337.00" text-anchor="middle">24</text></g>
<text class="p" id="t_CO" x="959.20" y="239.00" text-anchor="end" font-size="8.20" textLength="41.50" lengthAdjust="spacingAndGlyphs">CO (ppm)</text>
</svg>
</body></html>
